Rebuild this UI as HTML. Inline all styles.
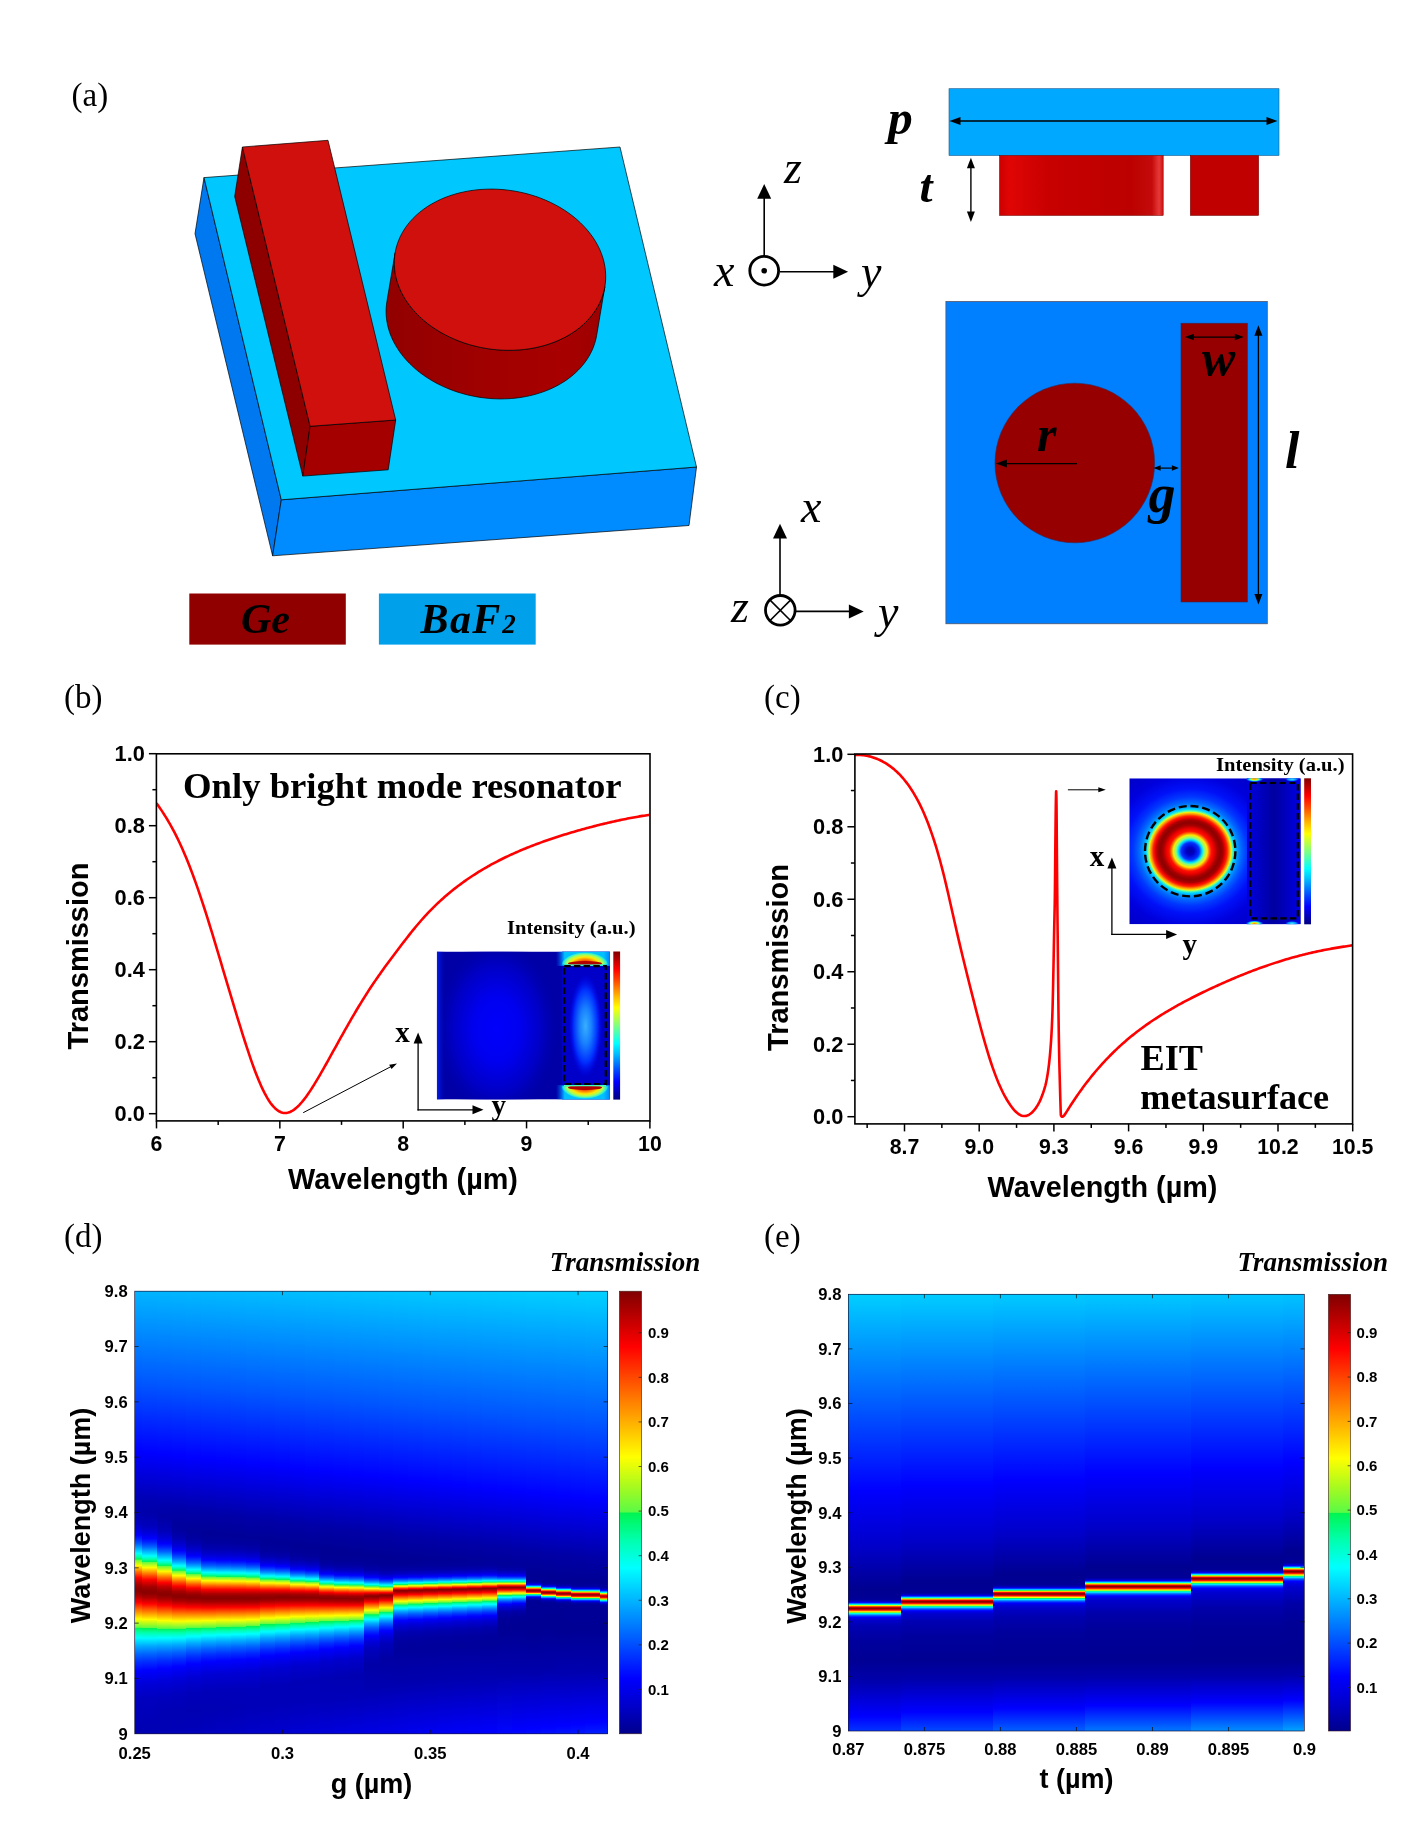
<!DOCTYPE html>
<html><head><meta charset="utf-8"><title>Figure</title>
<style>html,body{margin:0;padding:0;background:#fff;overflow:hidden}svg{display:block;will-change:transform}</style></head>
<body>
<svg width="1411" height="1840" viewBox="0 0 1411 1840">
<rect width="1411" height="1840" fill="#fff"/>
<defs>
<linearGradient id="cylg" x1="0" y1="0" x2="1" y2="0"><stop offset="0" stop-color="#920000"/><stop offset="0.45" stop-color="#a00000"/><stop offset="0.8" stop-color="#a80000"/><stop offset="1" stop-color="#9c0000"/></linearGradient>
<linearGradient id="cyls" x1="0" y1="0" x2="1" y2="0"><stop offset="0" stop-color="#cc0000"/><stop offset="0.06" stop-color="#e00505"/><stop offset="0.3" stop-color="#c80000"/><stop offset="0.8" stop-color="#bc0000"/><stop offset="0.93" stop-color="#c40a0a"/><stop offset="0.975" stop-color="#e83838"/><stop offset="1" stop-color="#c81010"/></linearGradient>
<linearGradient id="jetv" x1="0" y1="0" x2="0" y2="1"><stop offset="0" stop-color="#800000"/><stop offset="0.06" stop-color="#bf0000"/><stop offset="0.12" stop-color="#ff0000"/><stop offset="0.19" stop-color="#ff4000"/><stop offset="0.25" stop-color="#ff8000"/><stop offset="0.31" stop-color="#ffbf00"/><stop offset="0.38" stop-color="#ffff00"/><stop offset="0.44" stop-color="#bfff40"/><stop offset="0.5" stop-color="#80ff80"/><stop offset="0.56" stop-color="#40ffbf"/><stop offset="0.62" stop-color="#00ffff"/><stop offset="0.69" stop-color="#00bfff"/><stop offset="0.75" stop-color="#0080ff"/><stop offset="0.81" stop-color="#0040ff"/><stop offset="0.88" stop-color="#0000ff"/><stop offset="0.94" stop-color="#0000bf"/><stop offset="1" stop-color="#000080"/></linearGradient>
<clipPath id="clipb"><rect x="436.8" y="951.5" width="173.1" height="148.1"/></clipPath>
<radialGradient id="b_el1" cx="0.5" cy="0.5" r="0.5"><stop offset="0" stop-color="#0000ff"/><stop offset="0.45" stop-color="#0000f0"/><stop offset="1" stop-color="#0000f0" stop-opacity="0"/></radialGradient>
<radialGradient id="b_el2" cx="0.5" cy="0.5" r="0.5"><stop offset="0" stop-color="#38b0ff"/><stop offset="0.35" stop-color="#1880ff"/><stop offset="0.7" stop-color="#0030ff"/><stop offset="1" stop-color="#0000f0" stop-opacity="0"/></radialGradient>
<radialGradient id="b_hot" cx="0.5" cy="0.5" r="0.5"><stop offset="0" stop-color="#c00000"/><stop offset="0.3" stop-color="#ff2000"/><stop offset="0.5" stop-color="#ffb000"/><stop offset="0.65" stop-color="#e0ff20"/><stop offset="0.78" stop-color="#40ffc0"/><stop offset="0.9" stop-color="#00b0ff"/><stop offset="1" stop-color="#0040ff" stop-opacity="0"/></radialGradient>
<linearGradient id="b_bg" x1="0" y1="0" x2="1" y2="0"><stop offset="0" stop-color="#0008f0"/><stop offset="0.06" stop-color="#0000c8"/><stop offset="0.2" stop-color="#0000c8"/><stop offset="0.36" stop-color="#0000f8"/><stop offset="0.52" stop-color="#0000c8"/><stop offset="0.68" stop-color="#0000a8"/><stop offset="0.74" stop-color="#0000c0"/><stop offset="1" stop-color="#0000d0"/></linearGradient>
<clipPath id="domeT"><rect x="430" y="940" width="190" height="24.6"/></clipPath><clipPath id="domeB"><rect x="430" y="1086.2" width="190" height="25"/></clipPath>
<filter id="blur2" x="-20%" y="-20%" width="140%" height="140%"><feGaussianBlur stdDeviation="1.2"/></filter>
<radialGradient id="b_bigel" cx="0.5" cy="0.5" r="0.5"><stop offset="0" stop-color="#0000fc"/><stop offset="0.35" stop-color="#0000f0"/><stop offset="0.7" stop-color="#0000c4"/><stop offset="1" stop-color="#0000a6" stop-opacity="0"/></radialGradient>
<linearGradient id="b_left" x1="0" y1="0" x2="1" y2="0"><stop offset="0" stop-color="#0020f0"/><stop offset="1" stop-color="#0000a6" stop-opacity="0"/></linearGradient>
<linearGradient id="b_glow" x1="0" y1="0" x2="1" y2="0"><stop offset="0" stop-color="#0060ff" stop-opacity="0"/><stop offset="0.16" stop-color="#00c0ff"/><stop offset="0.88" stop-color="#00c0ff"/><stop offset="1" stop-color="#0080ff"/></linearGradient>
<radialGradient id="b_dome" cx="0.5" cy="0.5" r="0.5"><stop offset="0" stop-color="#c00000"/><stop offset="0.22" stop-color="#f01000"/><stop offset="0.42" stop-color="#ff8000"/><stop offset="0.62" stop-color="#ffe800"/><stop offset="0.8" stop-color="#a0ff60"/><stop offset="0.93" stop-color="#30f0d0"/><stop offset="1" stop-color="#00c8ff"/></radialGradient>
<clipPath id="cb"><rect x="156.4" y="753.8" width="493.6" height="367.1"/></clipPath>
<clipPath id="clipc"><rect x="1129.3" y="778.3" width="171.4" height="146"/></clipPath>
<radialGradient id="c_ring" gradientUnits="userSpaceOnUse" cx="1190.2" cy="851.2" r="100" gradientTransform="translate(0 851.2) scale(1 0.95) translate(0 -851.2)"><stop offset="0" stop-color="#0000a0"/><stop offset="0.04" stop-color="#0000c8"/><stop offset="0.09" stop-color="#0030ff"/><stop offset="0.12" stop-color="#00e0ff"/><stop offset="0.14" stop-color="#80ff80"/><stop offset="0.17" stop-color="#ffe800"/><stop offset="0.19" stop-color="#ff7000"/><stop offset="0.21" stop-color="#ff1000"/><stop offset="0.24" stop-color="#e80000"/><stop offset="0.27" stop-color="#a80000"/><stop offset="0.3" stop-color="#8c0000"/><stop offset="0.33" stop-color="#a80000"/><stop offset="0.35" stop-color="#e80000"/><stop offset="0.37" stop-color="#ff2000"/><stop offset="0.39" stop-color="#ff9000"/><stop offset="0.41" stop-color="#f0f010"/><stop offset="0.42" stop-color="#70ff90"/><stop offset="0.44" stop-color="#00d8ff"/><stop offset="0.47" stop-color="#0098ff"/><stop offset="0.51" stop-color="#0068ff"/><stop offset="0.57" stop-color="#0038ff"/><stop offset="0.66" stop-color="#0010f8"/><stop offset="0.8" stop-color="#0000dc"/><stop offset="1" stop-color="#0000c4"/></radialGradient>
<linearGradient id="c_bar" x1="0" y1="0" x2="1" y2="0"><stop offset="0" stop-color="#0000e0"/><stop offset="0.25" stop-color="#0000c0"/><stop offset="0.5" stop-color="#0000a0"/><stop offset="0.8" stop-color="#0000c8"/><stop offset="1" stop-color="#0000e8"/></linearGradient>
<radialGradient id="c_hot" cx="0.5" cy="0.5" r="0.5"><stop offset="0" stop-color="#ff9000"/><stop offset="0.3" stop-color="#ffe000"/><stop offset="0.5" stop-color="#60ffa0"/><stop offset="0.7" stop-color="#00a0ff"/><stop offset="1" stop-color="#0040ff" stop-opacity="0"/></radialGradient>
<radialGradient id="c_hot2" cx="0.5" cy="0.5" r="0.5"><stop offset="0" stop-color="#40e0ff"/><stop offset="0.6" stop-color="#0090ff"/><stop offset="1" stop-color="#0040ff" stop-opacity="0"/></radialGradient>
<clipPath id="cc"><rect x="854.9" y="754" width="497.7" height="369.9"/></clipPath>
<linearGradient id="d0" x1="0" y1="0" x2="0" y2="1"><stop offset="0" stop-color="#00b4ff"/><stop offset="0.2069" stop-color="#0056ff"/><stop offset="0.3626" stop-color="#0000ff"/><stop offset="0.4661" stop-color="#0000b6"/><stop offset="0.4939" stop-color="#0000ac"/><stop offset="0.5239" stop-color="#0000be"/><stop offset="0.5384" stop-color="#0000d9"/><stop offset="0.5517" stop-color="#0000fe"/><stop offset="0.5606" stop-color="#0026ff"/><stop offset="0.5717" stop-color="#0065ff"/><stop offset="0.5918" stop-color="#00faff"/><stop offset="0.5929" stop-color="#00fff9"/><stop offset="0.5996" stop-color="#00ffad"/><stop offset="0.6051" stop-color="#00f75f"/><stop offset="0.6062" stop-color="#25f74c"/><stop offset="0.6073" stop-color="#67fa3f"/><stop offset="0.6129" stop-color="#affa1c"/><stop offset="0.6196" stop-color="#fffb00"/><stop offset="0.6352" stop-color="#ff6500"/><stop offset="0.6474" stop-color="#ff0000"/><stop offset="0.6552" stop-color="#cd0000"/><stop offset="0.663" stop-color="#a70000"/><stop offset="0.6707" stop-color="#900000"/><stop offset="0.6774" stop-color="#890000"/><stop offset="0.6874" stop-color="#a60000"/><stop offset="0.703" stop-color="#fc0000"/><stop offset="0.7408" stop-color="#feff00"/><stop offset="0.7597" stop-color="#5ffa43"/><stop offset="0.7608" stop-color="#00f553"/><stop offset="0.7709" stop-color="#00ffaa"/><stop offset="0.7831" stop-color="#00fffe"/><stop offset="0.802" stop-color="#00a9ff"/><stop offset="0.8198" stop-color="#0066ff"/><stop offset="0.8387" stop-color="#002dff"/><stop offset="0.8587" stop-color="#0000ff"/><stop offset="0.8877" stop-color="#0000da"/><stop offset="0.9232" stop-color="#0000bf"/><stop offset="1" stop-color="#0000af"/></linearGradient>
<linearGradient id="d1" x1="0" y1="0" x2="0" y2="1"><stop offset="0" stop-color="#00b5ff"/><stop offset="0.2102" stop-color="#0056ff"/><stop offset="0.366" stop-color="#0000ff"/><stop offset="0.4716" stop-color="#0000b4"/><stop offset="0.4994" stop-color="#0000aa"/><stop offset="0.5306" stop-color="#0000bd"/><stop offset="0.5451" stop-color="#0000d8"/><stop offset="0.5584" stop-color="#0000fe"/><stop offset="0.5673" stop-color="#0027ff"/><stop offset="0.5773" stop-color="#0061ff"/><stop offset="0.5973" stop-color="#00f8ff"/><stop offset="0.5984" stop-color="#00fffb"/><stop offset="0.6051" stop-color="#00ffad"/><stop offset="0.6107" stop-color="#00f75e"/><stop offset="0.6118" stop-color="#5bfa46"/><stop offset="0.624" stop-color="#fcff01"/><stop offset="0.6251" stop-color="#fff600"/><stop offset="0.6429" stop-color="#ff4a00"/><stop offset="0.6518" stop-color="#ff0100"/><stop offset="0.6529" stop-color="#f80000"/><stop offset="0.6674" stop-color="#a60000"/><stop offset="0.6752" stop-color="#8f0000"/><stop offset="0.6819" stop-color="#890000"/><stop offset="0.6919" stop-color="#ab0000"/><stop offset="0.7063" stop-color="#ff0000"/><stop offset="0.7419" stop-color="#fffc00"/><stop offset="0.7519" stop-color="#abfa1e"/><stop offset="0.7608" stop-color="#5efa44"/><stop offset="0.762" stop-color="#00f554"/><stop offset="0.772" stop-color="#00ffae"/><stop offset="0.7842" stop-color="#00fbff"/><stop offset="0.802" stop-color="#00a7ff"/><stop offset="0.8198" stop-color="#0062ff"/><stop offset="0.8376" stop-color="#002cff"/><stop offset="0.8565" stop-color="#0000ff"/><stop offset="0.8854" stop-color="#0000d9"/><stop offset="0.921" stop-color="#0000bf"/><stop offset="1" stop-color="#0000b2"/></linearGradient>
<linearGradient id="d2" x1="0" y1="0" x2="0" y2="1"><stop offset="0" stop-color="#00b6ff"/><stop offset="0.2125" stop-color="#0056ff"/><stop offset="0.3693" stop-color="#0000ff"/><stop offset="0.4816" stop-color="#0000af"/><stop offset="0.5106" stop-color="#0000a5"/><stop offset="0.5417" stop-color="#0000b7"/><stop offset="0.5584" stop-color="#0000d9"/><stop offset="0.5706" stop-color="#0000fd"/><stop offset="0.5784" stop-color="#0024ff"/><stop offset="0.5884" stop-color="#0061ff"/><stop offset="0.6073" stop-color="#00f9ff"/><stop offset="0.6085" stop-color="#00fff9"/><stop offset="0.614" stop-color="#00ffb3"/><stop offset="0.6196" stop-color="#00f760"/><stop offset="0.6207" stop-color="#42f949"/><stop offset="0.6218" stop-color="#69fa3e"/><stop offset="0.6263" stop-color="#a8fa1f"/><stop offset="0.6329" stop-color="#fffa00"/><stop offset="0.6474" stop-color="#ff6300"/><stop offset="0.6585" stop-color="#ff0000"/><stop offset="0.6663" stop-color="#c80000"/><stop offset="0.673" stop-color="#a60000"/><stop offset="0.6796" stop-color="#910000"/><stop offset="0.6863" stop-color="#890000"/><stop offset="0.6963" stop-color="#ac0000"/><stop offset="0.7097" stop-color="#fe0000"/><stop offset="0.7442" stop-color="#feff00"/><stop offset="0.762" stop-color="#5bfa45"/><stop offset="0.7631" stop-color="#00f658"/><stop offset="0.772" stop-color="#00ffac"/><stop offset="0.7831" stop-color="#00ffff"/><stop offset="0.7998" stop-color="#00abff"/><stop offset="0.8165" stop-color="#0067ff"/><stop offset="0.8343" stop-color="#002dff"/><stop offset="0.8521" stop-color="#0001ff"/><stop offset="0.8821" stop-color="#0000d8"/><stop offset="0.9177" stop-color="#0000be"/><stop offset="0.9544" stop-color="#0000b4"/><stop offset="1" stop-color="#0000b4"/></linearGradient>
<linearGradient id="d3" x1="0" y1="0" x2="0" y2="1"><stop offset="0" stop-color="#00b7ff"/><stop offset="0.2158" stop-color="#0056ff"/><stop offset="0.3726" stop-color="#0000ff"/><stop offset="0.4917" stop-color="#0000aa"/><stop offset="0.5284" stop-color="#00009e"/><stop offset="0.5439" stop-color="#0000a2"/><stop offset="0.5584" stop-color="#0000b3"/><stop offset="0.574" stop-color="#0000d4"/><stop offset="0.5862" stop-color="#0000fc"/><stop offset="0.5929" stop-color="#001fff"/><stop offset="0.6018" stop-color="#005aff"/><stop offset="0.6107" stop-color="#00a2ff"/><stop offset="0.6196" stop-color="#00f8ff"/><stop offset="0.6207" stop-color="#00fff9"/><stop offset="0.6251" stop-color="#00ffbc"/><stop offset="0.6307" stop-color="#00f761"/><stop offset="0.6318" stop-color="#5bfa46"/><stop offset="0.6418" stop-color="#f7ff03"/><stop offset="0.6429" stop-color="#fff800"/><stop offset="0.6574" stop-color="#ff5200"/><stop offset="0.6663" stop-color="#fa0000"/><stop offset="0.6785" stop-color="#a70000"/><stop offset="0.6852" stop-color="#900000"/><stop offset="0.6908" stop-color="#890000"/><stop offset="0.6997" stop-color="#a90000"/><stop offset="0.713" stop-color="#fe0000"/><stop offset="0.7453" stop-color="#fffc00"/><stop offset="0.762" stop-color="#61fa43"/><stop offset="0.7631" stop-color="#00f552"/><stop offset="0.772" stop-color="#00ffab"/><stop offset="0.7831" stop-color="#00fcff"/><stop offset="0.7987" stop-color="#00aaff"/><stop offset="0.8154" stop-color="#0063ff"/><stop offset="0.832" stop-color="#002bff"/><stop offset="0.8487" stop-color="#0000ff"/><stop offset="0.8776" stop-color="#0000d7"/><stop offset="0.9132" stop-color="#0000bd"/><stop offset="0.9511" stop-color="#0000b4"/><stop offset="1" stop-color="#0000b7"/></linearGradient>
<linearGradient id="d4" x1="0" y1="0" x2="0" y2="1"><stop offset="0" stop-color="#00b8ff"/><stop offset="0.218" stop-color="#0056ff"/><stop offset="0.3771" stop-color="#0000ff"/><stop offset="0.4972" stop-color="#0000a9"/><stop offset="0.5395" stop-color="#00009a"/><stop offset="0.5562" stop-color="#00009f"/><stop offset="0.5717" stop-color="#0000b1"/><stop offset="0.5873" stop-color="#0000d5"/><stop offset="0.5984" stop-color="#0000fe"/><stop offset="0.6051" stop-color="#0026ff"/><stop offset="0.6129" stop-color="#0060ff"/><stop offset="0.6207" stop-color="#00a7ff"/><stop offset="0.6285" stop-color="#00f9ff"/><stop offset="0.6296" stop-color="#00fff6"/><stop offset="0.634" stop-color="#00ffb2"/><stop offset="0.6385" stop-color="#00f760"/><stop offset="0.6396" stop-color="#5dfa44"/><stop offset="0.6485" stop-color="#f5fe03"/><stop offset="0.6496" stop-color="#fff800"/><stop offset="0.663" stop-color="#ff4f00"/><stop offset="0.6707" stop-color="#fb0000"/><stop offset="0.6819" stop-color="#a70000"/><stop offset="0.6874" stop-color="#910000"/><stop offset="0.693" stop-color="#890000"/><stop offset="0.7019" stop-color="#ab0000"/><stop offset="0.7141" stop-color="#ff0000"/><stop offset="0.7442" stop-color="#fff900"/><stop offset="0.7453" stop-color="#fbff01"/><stop offset="0.7608" stop-color="#5cfa45"/><stop offset="0.762" stop-color="#00f658"/><stop offset="0.7697" stop-color="#00ffaa"/><stop offset="0.7798" stop-color="#00fffe"/><stop offset="0.7809" stop-color="#00f9ff"/><stop offset="0.7953" stop-color="#00a9ff"/><stop offset="0.8109" stop-color="#0063ff"/><stop offset="0.8265" stop-color="#002bff"/><stop offset="0.842" stop-color="#0001ff"/><stop offset="0.871" stop-color="#0000d6"/><stop offset="0.9077" stop-color="#0000bb"/><stop offset="0.9477" stop-color="#0000b3"/><stop offset="1" stop-color="#0000ba"/></linearGradient>
<linearGradient id="d5" x1="0" y1="0" x2="0" y2="1"><stop offset="0" stop-color="#00b9ff"/><stop offset="0.2214" stop-color="#0056ff"/><stop offset="0.3804" stop-color="#0000ff"/><stop offset="0.5028" stop-color="#0000a7"/><stop offset="0.5473" stop-color="#000097"/><stop offset="0.5662" stop-color="#00009e"/><stop offset="0.5818" stop-color="#0000b0"/><stop offset="0.5962" stop-color="#0000d4"/><stop offset="0.6073" stop-color="#0000ff"/><stop offset="0.6207" stop-color="#0062ff"/><stop offset="0.6274" stop-color="#00a4ff"/><stop offset="0.6352" stop-color="#00fdff"/><stop offset="0.6407" stop-color="#00fea5"/><stop offset="0.644" stop-color="#00f762"/><stop offset="0.6452" stop-color="#5dfa44"/><stop offset="0.6496" stop-color="#b0fa1c"/><stop offset="0.6541" stop-color="#fffd00"/><stop offset="0.6663" stop-color="#ff5500"/><stop offset="0.6741" stop-color="#fa0000"/><stop offset="0.6841" stop-color="#a90000"/><stop offset="0.6897" stop-color="#910000"/><stop offset="0.6941" stop-color="#890000"/><stop offset="0.7019" stop-color="#a40000"/><stop offset="0.7152" stop-color="#ff0300"/><stop offset="0.7442" stop-color="#fffe00"/><stop offset="0.7597" stop-color="#5bfa46"/><stop offset="0.7608" stop-color="#00f65a"/><stop offset="0.7686" stop-color="#00ffaf"/><stop offset="0.7775" stop-color="#00fffd"/><stop offset="0.7786" stop-color="#00faff"/><stop offset="0.7931" stop-color="#00a6ff"/><stop offset="0.8076" stop-color="#0062ff"/><stop offset="0.822" stop-color="#002cff"/><stop offset="0.8376" stop-color="#0000ff"/><stop offset="0.8665" stop-color="#0000d4"/><stop offset="0.9032" stop-color="#0000ba"/><stop offset="0.9444" stop-color="#0000b4"/><stop offset="1" stop-color="#0000be"/></linearGradient>
<linearGradient id="d6" x1="0" y1="0" x2="0" y2="1"><stop offset="0" stop-color="#00baff"/><stop offset="0.2236" stop-color="#0056ff"/><stop offset="0.3838" stop-color="#0000ff"/><stop offset="0.5061" stop-color="#0000a8"/><stop offset="0.5506" stop-color="#000098"/><stop offset="0.5684" stop-color="#00009f"/><stop offset="0.5829" stop-color="#0000b0"/><stop offset="0.5973" stop-color="#0000d4"/><stop offset="0.6073" stop-color="#0000fb"/><stop offset="0.6129" stop-color="#001eff"/><stop offset="0.6207" stop-color="#005cff"/><stop offset="0.6274" stop-color="#009cff"/><stop offset="0.6352" stop-color="#00f5ff"/><stop offset="0.6363" stop-color="#00fffa"/><stop offset="0.6396" stop-color="#00ffc3"/><stop offset="0.6452" stop-color="#00f656"/><stop offset="0.6463" stop-color="#68fa3f"/><stop offset="0.6541" stop-color="#faff02"/><stop offset="0.6552" stop-color="#fff300"/><stop offset="0.6663" stop-color="#ff5900"/><stop offset="0.6741" stop-color="#fc0000"/><stop offset="0.6841" stop-color="#a90000"/><stop offset="0.6897" stop-color="#910000"/><stop offset="0.6941" stop-color="#890000"/><stop offset="0.7019" stop-color="#a50000"/><stop offset="0.7141" stop-color="#fb0000"/><stop offset="0.743" stop-color="#fffa00"/><stop offset="0.7508" stop-color="#affa1c"/><stop offset="0.7586" stop-color="#5cfa45"/><stop offset="0.7597" stop-color="#00f659"/><stop offset="0.7675" stop-color="#00ffaf"/><stop offset="0.7764" stop-color="#00fffe"/><stop offset="0.7775" stop-color="#00f9ff"/><stop offset="0.7909" stop-color="#00aaff"/><stop offset="0.8053" stop-color="#0065ff"/><stop offset="0.8198" stop-color="#002dff"/><stop offset="0.8354" stop-color="#0001ff"/><stop offset="0.8643" stop-color="#0000d4"/><stop offset="0.901" stop-color="#0000ba"/><stop offset="0.9433" stop-color="#0000b5"/><stop offset="1" stop-color="#0000c2"/></linearGradient>
<linearGradient id="d7" x1="0" y1="0" x2="0" y2="1"><stop offset="0" stop-color="#00bbff"/><stop offset="0.2269" stop-color="#0056ff"/><stop offset="0.3871" stop-color="#0000ff"/><stop offset="0.5095" stop-color="#0000a8"/><stop offset="0.5528" stop-color="#000098"/><stop offset="0.5695" stop-color="#00009e"/><stop offset="0.584" stop-color="#0000b0"/><stop offset="0.5984" stop-color="#0000d4"/><stop offset="0.6085" stop-color="#0000fc"/><stop offset="0.614" stop-color="#0020ff"/><stop offset="0.6218" stop-color="#005fff"/><stop offset="0.6285" stop-color="#00a1ff"/><stop offset="0.6363" stop-color="#00fbff"/><stop offset="0.6407" stop-color="#00ffb9"/><stop offset="0.6452" stop-color="#00f761"/><stop offset="0.6463" stop-color="#5ffa44"/><stop offset="0.6507" stop-color="#b3fb1b"/><stop offset="0.6552" stop-color="#fff900"/><stop offset="0.6663" stop-color="#ff5d00"/><stop offset="0.6741" stop-color="#ff0000"/><stop offset="0.6841" stop-color="#aa0000"/><stop offset="0.6897" stop-color="#910000"/><stop offset="0.6941" stop-color="#890000"/><stop offset="0.7019" stop-color="#a50000"/><stop offset="0.7141" stop-color="#fe0000"/><stop offset="0.743" stop-color="#fdff01"/><stop offset="0.7575" stop-color="#5efa44"/><stop offset="0.7586" stop-color="#00f657"/><stop offset="0.7664" stop-color="#00ffaf"/><stop offset="0.7753" stop-color="#00ffff"/><stop offset="0.7887" stop-color="#00afff"/><stop offset="0.8031" stop-color="#0067ff"/><stop offset="0.8176" stop-color="#002fff"/><stop offset="0.8331" stop-color="#0001ff"/><stop offset="0.8621" stop-color="#0000d4"/><stop offset="0.8999" stop-color="#0000ba"/><stop offset="0.9422" stop-color="#0000b7"/><stop offset="1" stop-color="#0000c5"/></linearGradient>
<linearGradient id="d8" x1="0" y1="0" x2="0" y2="1"><stop offset="0" stop-color="#00bcff"/><stop offset="0.2303" stop-color="#0056ff"/><stop offset="0.3904" stop-color="#0000ff"/><stop offset="0.5139" stop-color="#0000a8"/><stop offset="0.5562" stop-color="#000099"/><stop offset="0.5717" stop-color="#00009e"/><stop offset="0.5862" stop-color="#0000b0"/><stop offset="0.6007" stop-color="#0000d5"/><stop offset="0.6107" stop-color="#0000fe"/><stop offset="0.6174" stop-color="#002cff"/><stop offset="0.624" stop-color="#0065ff"/><stop offset="0.6374" stop-color="#00faff"/><stop offset="0.6418" stop-color="#00ffba"/><stop offset="0.6463" stop-color="#00f760"/><stop offset="0.6474" stop-color="#60fa43"/><stop offset="0.6552" stop-color="#f6fe03"/><stop offset="0.6563" stop-color="#fff500"/><stop offset="0.6685" stop-color="#ff4800"/><stop offset="0.6741" stop-color="#ff0500"/><stop offset="0.6752" stop-color="#f70000"/><stop offset="0.6808" stop-color="#c40000"/><stop offset="0.6852" stop-color="#a50000"/><stop offset="0.6908" stop-color="#8e0000"/><stop offset="0.6952" stop-color="#890000"/><stop offset="0.703" stop-color="#ad0000"/><stop offset="0.7141" stop-color="#ff0100"/><stop offset="0.7419" stop-color="#fffd00"/><stop offset="0.7564" stop-color="#5ffa43"/><stop offset="0.7575" stop-color="#00f656"/><stop offset="0.7653" stop-color="#00ffaf"/><stop offset="0.7742" stop-color="#00feff"/><stop offset="0.7875" stop-color="#00adff"/><stop offset="0.802" stop-color="#0065ff"/><stop offset="0.8176" stop-color="#0028ff"/><stop offset="0.832" stop-color="#0000fe"/><stop offset="0.861" stop-color="#0000d3"/><stop offset="0.8977" stop-color="#0000bb"/><stop offset="0.9399" stop-color="#0000b8"/><stop offset="1" stop-color="#0000c9"/></linearGradient>
<linearGradient id="d9" x1="0" y1="0" x2="0" y2="1"><stop offset="0" stop-color="#00bdff"/><stop offset="0.2325" stop-color="#0056ff"/><stop offset="0.3938" stop-color="#0000ff"/><stop offset="0.5184" stop-color="#0000a7"/><stop offset="0.5651" stop-color="#000096"/><stop offset="0.584" stop-color="#00009c"/><stop offset="0.5973" stop-color="#0000ad"/><stop offset="0.6107" stop-color="#0000d3"/><stop offset="0.6196" stop-color="#0000fc"/><stop offset="0.624" stop-color="#001dff"/><stop offset="0.6307" stop-color="#005cff"/><stop offset="0.6363" stop-color="#009cff"/><stop offset="0.6429" stop-color="#00f7ff"/><stop offset="0.644" stop-color="#00fff4"/><stop offset="0.6463" stop-color="#00ffc9"/><stop offset="0.6507" stop-color="#00f763"/><stop offset="0.6518" stop-color="#60fa43"/><stop offset="0.6585" stop-color="#f4fe04"/><stop offset="0.6596" stop-color="#fff400"/><stop offset="0.6707" stop-color="#ff4000"/><stop offset="0.6752" stop-color="#ff0300"/><stop offset="0.6763" stop-color="#f40000"/><stop offset="0.6808" stop-color="#c40000"/><stop offset="0.6852" stop-color="#a20000"/><stop offset="0.693" stop-color="#890000"/><stop offset="0.6997" stop-color="#a50000"/><stop offset="0.7119" stop-color="#ff0300"/><stop offset="0.7386" stop-color="#feff00"/><stop offset="0.7519" stop-color="#63fa42"/><stop offset="0.7531" stop-color="#00f553"/><stop offset="0.7608" stop-color="#00ffaf"/><stop offset="0.7697" stop-color="#00fcff"/><stop offset="0.7831" stop-color="#00a7ff"/><stop offset="0.7964" stop-color="#0063ff"/><stop offset="0.8098" stop-color="#002cff"/><stop offset="0.8242" stop-color="#0000ff"/><stop offset="0.8532" stop-color="#0000d2"/><stop offset="0.891" stop-color="#0000b9"/><stop offset="0.9355" stop-color="#0000b8"/><stop offset="1" stop-color="#0000cc"/></linearGradient>
<linearGradient id="d10" x1="0" y1="0" x2="0" y2="1"><stop offset="0" stop-color="#00beff"/><stop offset="0.2358" stop-color="#0056ff"/><stop offset="0.3971" stop-color="#0000ff"/><stop offset="0.5228" stop-color="#0000a7"/><stop offset="0.5695" stop-color="#000096"/><stop offset="0.5862" stop-color="#00009c"/><stop offset="0.5996" stop-color="#0000ac"/><stop offset="0.6129" stop-color="#0000d2"/><stop offset="0.6218" stop-color="#0000fc"/><stop offset="0.6263" stop-color="#0020ff"/><stop offset="0.6329" stop-color="#0062ff"/><stop offset="0.644" stop-color="#00f5ff"/><stop offset="0.6452" stop-color="#00fff6"/><stop offset="0.6463" stop-color="#00ffe0"/><stop offset="0.6518" stop-color="#00f75f"/><stop offset="0.6529" stop-color="#65fa41"/><stop offset="0.6596" stop-color="#feff00"/><stop offset="0.6607" stop-color="#ffec00"/><stop offset="0.6719" stop-color="#ff3200"/><stop offset="0.6752" stop-color="#ff0300"/><stop offset="0.6763" stop-color="#f40000"/><stop offset="0.6841" stop-color="#a70000"/><stop offset="0.6885" stop-color="#900000"/><stop offset="0.6919" stop-color="#890000"/><stop offset="0.6997" stop-color="#a90000"/><stop offset="0.7108" stop-color="#ff0200"/><stop offset="0.7364" stop-color="#fff800"/><stop offset="0.7375" stop-color="#fbff01"/><stop offset="0.7508" stop-color="#5dfa44"/><stop offset="0.7519" stop-color="#00f659"/><stop offset="0.7586" stop-color="#00ffaa"/><stop offset="0.7675" stop-color="#00feff"/><stop offset="0.7809" stop-color="#00a8ff"/><stop offset="0.7942" stop-color="#0062ff"/><stop offset="0.8087" stop-color="#0027ff"/><stop offset="0.822" stop-color="#0000fe"/><stop offset="0.8509" stop-color="#0000d1"/><stop offset="0.8888" stop-color="#0000b9"/><stop offset="0.9333" stop-color="#0000b9"/><stop offset="1" stop-color="#0000cf"/></linearGradient>
<linearGradient id="d11" x1="0" y1="0" x2="0" y2="1"><stop offset="0" stop-color="#00bfff"/><stop offset="0.238" stop-color="#0056ff"/><stop offset="0.4004" stop-color="#0000ff"/><stop offset="0.5273" stop-color="#0000a6"/><stop offset="0.5751" stop-color="#000095"/><stop offset="0.594" stop-color="#00009b"/><stop offset="0.6062" stop-color="#0000a9"/><stop offset="0.6185" stop-color="#0000cd"/><stop offset="0.6274" stop-color="#0000f9"/><stop offset="0.6307" stop-color="#0014ff"/><stop offset="0.6374" stop-color="#005aff"/><stop offset="0.6429" stop-color="#00a3ff"/><stop offset="0.6485" stop-color="#00faff"/><stop offset="0.6518" stop-color="#00ffbc"/><stop offset="0.6552" stop-color="#00f763"/><stop offset="0.6563" stop-color="#63fa41"/><stop offset="0.6618" stop-color="#effe06"/><stop offset="0.663" stop-color="#fff500"/><stop offset="0.6719" stop-color="#ff5000"/><stop offset="0.6763" stop-color="#ff0900"/><stop offset="0.6774" stop-color="#f80000"/><stop offset="0.6819" stop-color="#c20000"/><stop offset="0.6852" stop-color="#a40000"/><stop offset="0.6919" stop-color="#890000"/><stop offset="0.6986" stop-color="#a40000"/><stop offset="0.7097" stop-color="#fd0000"/><stop offset="0.7353" stop-color="#ffff00"/><stop offset="0.7486" stop-color="#5bfa45"/><stop offset="0.7497" stop-color="#00f65c"/><stop offset="0.7564" stop-color="#00ffb0"/><stop offset="0.7642" stop-color="#00fffe"/><stop offset="0.7775" stop-color="#00a6ff"/><stop offset="0.7898" stop-color="#0063ff"/><stop offset="0.8031" stop-color="#002aff"/><stop offset="0.8165" stop-color="#0000fe"/><stop offset="0.8454" stop-color="#0000cf"/><stop offset="0.8832" stop-color="#0000b7"/><stop offset="0.9288" stop-color="#0000b9"/><stop offset="1" stop-color="#0000d3"/></linearGradient>
<linearGradient id="d12" x1="0" y1="0" x2="0" y2="1"><stop offset="0" stop-color="#00c0ff"/><stop offset="0.2403" stop-color="#0057ff"/><stop offset="0.4049" stop-color="#0000ff"/><stop offset="0.5306" stop-color="#0000a7"/><stop offset="0.5795" stop-color="#000095"/><stop offset="0.5973" stop-color="#00009b"/><stop offset="0.6096" stop-color="#0000aa"/><stop offset="0.6218" stop-color="#0000d0"/><stop offset="0.6296" stop-color="#0000f9"/><stop offset="0.6318" stop-color="#000bff"/><stop offset="0.6385" stop-color="#0050ff"/><stop offset="0.644" stop-color="#009aff"/><stop offset="0.6496" stop-color="#00f3ff"/><stop offset="0.6507" stop-color="#00fff6"/><stop offset="0.6541" stop-color="#00ffa7"/><stop offset="0.6563" stop-color="#00f868"/><stop offset="0.6574" stop-color="#60fa43"/><stop offset="0.663" stop-color="#f1fe05"/><stop offset="0.6641" stop-color="#fff300"/><stop offset="0.6719" stop-color="#ff5d00"/><stop offset="0.6774" stop-color="#ff0000"/><stop offset="0.6819" stop-color="#c60000"/><stop offset="0.6852" stop-color="#a60000"/><stop offset="0.6919" stop-color="#890000"/><stop offset="0.6986" stop-color="#a50000"/><stop offset="0.7097" stop-color="#ff0100"/><stop offset="0.7341" stop-color="#fffb00"/><stop offset="0.7408" stop-color="#b0fa1c"/><stop offset="0.7475" stop-color="#5dfa45"/><stop offset="0.7486" stop-color="#00f65a"/><stop offset="0.7553" stop-color="#00ffb0"/><stop offset="0.762" stop-color="#00fff4"/><stop offset="0.7631" stop-color="#00ffff"/><stop offset="0.7753" stop-color="#00abff"/><stop offset="0.7887" stop-color="#0060ff"/><stop offset="0.802" stop-color="#0027ff"/><stop offset="0.8142" stop-color="#0000fe"/><stop offset="0.8432" stop-color="#0000cf"/><stop offset="0.881" stop-color="#0000b7"/><stop offset="0.9266" stop-color="#0000ba"/><stop offset="1" stop-color="#0000d6"/></linearGradient>
<linearGradient id="d13" x1="0" y1="0" x2="0" y2="1"><stop offset="0" stop-color="#00c1ff"/><stop offset="0.2436" stop-color="#0056ff"/><stop offset="0.4082" stop-color="#0000ff"/><stop offset="0.535" stop-color="#0000a6"/><stop offset="0.5862" stop-color="#000094"/><stop offset="0.6062" stop-color="#000098"/><stop offset="0.6185" stop-color="#0000a6"/><stop offset="0.6285" stop-color="#0000c4"/><stop offset="0.6385" stop-color="#0000fb"/><stop offset="0.6418" stop-color="#001cff"/><stop offset="0.6474" stop-color="#0063ff"/><stop offset="0.6563" stop-color="#00faff"/><stop offset="0.6596" stop-color="#00ffad"/><stop offset="0.6618" stop-color="#00f766"/><stop offset="0.663" stop-color="#65fa40"/><stop offset="0.6674" stop-color="#e9fe08"/><stop offset="0.6685" stop-color="#fff700"/><stop offset="0.6763" stop-color="#ff4d00"/><stop offset="0.6808" stop-color="#fa0000"/><stop offset="0.6841" stop-color="#c90000"/><stop offset="0.6874" stop-color="#a50000"/><stop offset="0.6908" stop-color="#8f0000"/><stop offset="0.6941" stop-color="#8a0000"/><stop offset="0.7008" stop-color="#ae0000"/><stop offset="0.7097" stop-color="#fd0000"/><stop offset="0.733" stop-color="#fff900"/><stop offset="0.7341" stop-color="#f8ff03"/><stop offset="0.7453" stop-color="#64fa41"/><stop offset="0.7464" stop-color="#00f553"/><stop offset="0.7531" stop-color="#00ffae"/><stop offset="0.7608" stop-color="#00fdff"/><stop offset="0.772" stop-color="#00acff"/><stop offset="0.7842" stop-color="#0064ff"/><stop offset="0.7964" stop-color="#002bff"/><stop offset="0.8087" stop-color="#0000ff"/><stop offset="0.8365" stop-color="#0000ce"/><stop offset="0.8754" stop-color="#0000b5"/><stop offset="0.9221" stop-color="#0000b9"/><stop offset="1" stop-color="#0000d9"/></linearGradient>
<linearGradient id="d14" x1="0" y1="0" x2="0" y2="1"><stop offset="0" stop-color="#00c2ff"/><stop offset="0.2469" stop-color="#0056ff"/><stop offset="0.4116" stop-color="#0000ff"/><stop offset="0.5395" stop-color="#0000a6"/><stop offset="0.5907" stop-color="#000094"/><stop offset="0.6096" stop-color="#000098"/><stop offset="0.6218" stop-color="#0000a6"/><stop offset="0.6307" stop-color="#0000c1"/><stop offset="0.6407" stop-color="#0000f9"/><stop offset="0.6429" stop-color="#000fff"/><stop offset="0.6485" stop-color="#0053ff"/><stop offset="0.6529" stop-color="#0099ff"/><stop offset="0.6585" stop-color="#00fffc"/><stop offset="0.6618" stop-color="#00fe9f"/><stop offset="0.6641" stop-color="#00f554"/><stop offset="0.6652" stop-color="#77fa38"/><stop offset="0.6696" stop-color="#ffff00"/><stop offset="0.6707" stop-color="#ffe500"/><stop offset="0.6774" stop-color="#ff4f00"/><stop offset="0.6808" stop-color="#ff0e00"/><stop offset="0.6819" stop-color="#f90000"/><stop offset="0.6852" stop-color="#c70000"/><stop offset="0.6885" stop-color="#a30000"/><stop offset="0.6941" stop-color="#890000"/><stop offset="0.7008" stop-color="#ab0000"/><stop offset="0.7097" stop-color="#fc0000"/><stop offset="0.7319" stop-color="#fff600"/><stop offset="0.733" stop-color="#fbff01"/><stop offset="0.7442" stop-color="#62fa42"/><stop offset="0.7453" stop-color="#00f656"/><stop offset="0.7519" stop-color="#00ffb3"/><stop offset="0.7586" stop-color="#00fffe"/><stop offset="0.7709" stop-color="#00a4ff"/><stop offset="0.782" stop-color="#0061ff"/><stop offset="0.7942" stop-color="#0027ff"/><stop offset="0.8053" stop-color="#0000fe"/><stop offset="0.8331" stop-color="#0000cc"/><stop offset="0.8721" stop-color="#0000b3"/><stop offset="0.9188" stop-color="#0000b9"/><stop offset="1" stop-color="#0000dd"/></linearGradient>
<linearGradient id="d15" x1="0" y1="0" x2="0" y2="1"><stop offset="0" stop-color="#00c3ff"/><stop offset="0.2503" stop-color="#0056ff"/><stop offset="0.4149" stop-color="#0000ff"/><stop offset="0.5428" stop-color="#0000a6"/><stop offset="0.5929" stop-color="#000095"/><stop offset="0.6118" stop-color="#000099"/><stop offset="0.6229" stop-color="#0000a7"/><stop offset="0.634" stop-color="#0000cd"/><stop offset="0.6418" stop-color="#0000fd"/><stop offset="0.6452" stop-color="#0020ff"/><stop offset="0.6496" stop-color="#005aff"/><stop offset="0.6541" stop-color="#00a1ff"/><stop offset="0.6585" stop-color="#00f5ff"/><stop offset="0.6596" stop-color="#00ffef"/><stop offset="0.6641" stop-color="#00f869"/><stop offset="0.6652" stop-color="#64fa41"/><stop offset="0.6696" stop-color="#ecfe07"/><stop offset="0.6707" stop-color="#fff400"/><stop offset="0.6796" stop-color="#ff2f00"/><stop offset="0.6819" stop-color="#ff0500"/><stop offset="0.683" stop-color="#f10000"/><stop offset="0.6863" stop-color="#c10000"/><stop offset="0.6897" stop-color="#9f0000"/><stop offset="0.6952" stop-color="#890000"/><stop offset="0.7008" stop-color="#a80000"/><stop offset="0.7097" stop-color="#fc0000"/><stop offset="0.7319" stop-color="#ffff00"/><stop offset="0.743" stop-color="#5ffa43"/><stop offset="0.7442" stop-color="#00f659"/><stop offset="0.7497" stop-color="#00ffab"/><stop offset="0.7564" stop-color="#00fffa"/><stop offset="0.7575" stop-color="#00faff"/><stop offset="0.7675" stop-color="#00abff"/><stop offset="0.7786" stop-color="#0064ff"/><stop offset="0.7898" stop-color="#002cff"/><stop offset="0.8009" stop-color="#0001ff"/><stop offset="0.8287" stop-color="#0000cb"/><stop offset="0.8676" stop-color="#0000b2"/><stop offset="0.9155" stop-color="#0000b9"/><stop offset="1" stop-color="#0000e0"/></linearGradient>
<linearGradient id="d16" x1="0" y1="0" x2="0" y2="1"><stop offset="0" stop-color="#00c4ff"/><stop offset="0.2525" stop-color="#0056ff"/><stop offset="0.4182" stop-color="#0000ff"/><stop offset="0.5462" stop-color="#0000a7"/><stop offset="0.5973" stop-color="#000095"/><stop offset="0.6162" stop-color="#000099"/><stop offset="0.6285" stop-color="#0000a8"/><stop offset="0.6385" stop-color="#0000cc"/><stop offset="0.6463" stop-color="#0000fc"/><stop offset="0.6496" stop-color="#0022ff"/><stop offset="0.6541" stop-color="#0060ff"/><stop offset="0.6585" stop-color="#00afff"/><stop offset="0.6618" stop-color="#00f6ff"/><stop offset="0.663" stop-color="#00ffe9"/><stop offset="0.6663" stop-color="#00f978"/><stop offset="0.6674" stop-color="#5bfa45"/><stop offset="0.6719" stop-color="#fbff01"/><stop offset="0.673" stop-color="#ffe200"/><stop offset="0.6796" stop-color="#ff2b00"/><stop offset="0.6808" stop-color="#ff0f00"/><stop offset="0.6819" stop-color="#f40000"/><stop offset="0.6863" stop-color="#a20000"/><stop offset="0.6897" stop-color="#890000"/><stop offset="0.6952" stop-color="#b00000"/><stop offset="0.7019" stop-color="#fd0000"/><stop offset="0.7197" stop-color="#fff400"/><stop offset="0.7208" stop-color="#faff02"/><stop offset="0.7297" stop-color="#62fa42"/><stop offset="0.7308" stop-color="#00f65a"/><stop offset="0.7364" stop-color="#00ffb9"/><stop offset="0.7419" stop-color="#00faff"/><stop offset="0.7508" stop-color="#00a7ff"/><stop offset="0.7597" stop-color="#0063ff"/><stop offset="0.7697" stop-color="#0027ff"/><stop offset="0.7786" stop-color="#0000fd"/><stop offset="0.792" stop-color="#0000d9"/><stop offset="0.8087" stop-color="#0000bd"/><stop offset="0.8443" stop-color="#0000a8"/><stop offset="0.901" stop-color="#0000b3"/><stop offset="1" stop-color="#0000e4"/></linearGradient>
<linearGradient id="d17" x1="0" y1="0" x2="0" y2="1"><stop offset="0" stop-color="#00c5ff"/><stop offset="0.2558" stop-color="#0056ff"/><stop offset="0.4216" stop-color="#0000ff"/><stop offset="0.5506" stop-color="#0000a6"/><stop offset="0.6007" stop-color="#000095"/><stop offset="0.6196" stop-color="#000099"/><stop offset="0.6307" stop-color="#0000a5"/><stop offset="0.6396" stop-color="#0000c2"/><stop offset="0.6485" stop-color="#0000f7"/><stop offset="0.6507" stop-color="#000fff"/><stop offset="0.6552" stop-color="#004cff"/><stop offset="0.6596" stop-color="#009cff"/><stop offset="0.6641" stop-color="#00fffc"/><stop offset="0.6663" stop-color="#00ffb1"/><stop offset="0.6685" stop-color="#00f554"/><stop offset="0.6696" stop-color="#81fa33"/><stop offset="0.673" stop-color="#fff900"/><stop offset="0.6808" stop-color="#ff0700"/><stop offset="0.6819" stop-color="#e80000"/><stop offset="0.6852" stop-color="#a10000"/><stop offset="0.6874" stop-color="#890000"/><stop offset="0.6919" stop-color="#a80000"/><stop offset="0.6986" stop-color="#fb0000"/><stop offset="0.7152" stop-color="#fffa00"/><stop offset="0.7197" stop-color="#b0fa1c"/><stop offset="0.7241" stop-color="#5dfa44"/><stop offset="0.7253" stop-color="#00f761"/><stop offset="0.7297" stop-color="#00ffb5"/><stop offset="0.7341" stop-color="#00fffa"/><stop offset="0.7353" stop-color="#00f7ff"/><stop offset="0.743" stop-color="#00a7ff"/><stop offset="0.7508" stop-color="#0065ff"/><stop offset="0.7586" stop-color="#002fff"/><stop offset="0.7675" stop-color="#0000ff"/><stop offset="0.7798" stop-color="#0000da"/><stop offset="0.7964" stop-color="#0000ba"/><stop offset="0.8309" stop-color="#0000a4"/><stop offset="0.8943" stop-color="#0000b2"/><stop offset="1" stop-color="#0000e7"/></linearGradient>
<linearGradient id="d18" x1="0" y1="0" x2="0" y2="1"><stop offset="0" stop-color="#00c6ff"/><stop offset="0.2592" stop-color="#0056ff"/><stop offset="0.4249" stop-color="#0000ff"/><stop offset="0.5539" stop-color="#0000a7"/><stop offset="0.604" stop-color="#000095"/><stop offset="0.6207" stop-color="#00009a"/><stop offset="0.6307" stop-color="#0000a9"/><stop offset="0.6396" stop-color="#0000cc"/><stop offset="0.6463" stop-color="#0000fc"/><stop offset="0.6485" stop-color="#0018ff"/><stop offset="0.6518" stop-color="#004eff"/><stop offset="0.6552" stop-color="#0092ff"/><stop offset="0.6585" stop-color="#00e8ff"/><stop offset="0.6596" stop-color="#00fff3"/><stop offset="0.6618" stop-color="#00fd94"/><stop offset="0.663" stop-color="#00f65a"/><stop offset="0.6641" stop-color="#85fa30"/><stop offset="0.6663" stop-color="#f5fe03"/><stop offset="0.6674" stop-color="#ffd900"/><stop offset="0.6719" stop-color="#ff2000"/><stop offset="0.673" stop-color="#f30000"/><stop offset="0.6752" stop-color="#a70000"/><stop offset="0.6763" stop-color="#8d0000"/><stop offset="0.6774" stop-color="#8c0000"/><stop offset="0.6796" stop-color="#a00000"/><stop offset="0.6852" stop-color="#ef0000"/><stop offset="0.6863" stop-color="#ff0200"/><stop offset="0.6997" stop-color="#fff500"/><stop offset="0.7008" stop-color="#f3fe04"/><stop offset="0.7075" stop-color="#5efa44"/><stop offset="0.7086" stop-color="#00f765"/><stop offset="0.7119" stop-color="#00ffb0"/><stop offset="0.7164" stop-color="#00fdff"/><stop offset="0.723" stop-color="#00abff"/><stop offset="0.7297" stop-color="#0067ff"/><stop offset="0.7375" stop-color="#0028ff"/><stop offset="0.7442" stop-color="#0000fe"/><stop offset="0.7553" stop-color="#0000d6"/><stop offset="0.7709" stop-color="#0000b3"/><stop offset="0.7864" stop-color="#0000a3"/><stop offset="0.8065" stop-color="#00009d"/><stop offset="0.8854" stop-color="#0000af"/><stop offset="1" stop-color="#0000ea"/></linearGradient>
<linearGradient id="d19" x1="0" y1="0" x2="0" y2="1"><stop offset="0" stop-color="#00c7ff"/><stop offset="0.2614" stop-color="#0056ff"/><stop offset="0.4283" stop-color="#0000ff"/><stop offset="0.5573" stop-color="#0000a7"/><stop offset="0.6051" stop-color="#000095"/><stop offset="0.6196" stop-color="#00009a"/><stop offset="0.6296" stop-color="#0000a8"/><stop offset="0.6374" stop-color="#0000c5"/><stop offset="0.6452" stop-color="#0000f9"/><stop offset="0.6474" stop-color="#0015ff"/><stop offset="0.6518" stop-color="#005eff"/><stop offset="0.6552" stop-color="#00a7ff"/><stop offset="0.6585" stop-color="#00fffd"/><stop offset="0.6607" stop-color="#00fea1"/><stop offset="0.6618" stop-color="#00f868"/><stop offset="0.663" stop-color="#78fa37"/><stop offset="0.6652" stop-color="#e8fe08"/><stop offset="0.6663" stop-color="#ffe400"/><stop offset="0.6719" stop-color="#fd0000"/><stop offset="0.6741" stop-color="#ae0000"/><stop offset="0.6752" stop-color="#910000"/><stop offset="0.6763" stop-color="#8b0000"/><stop offset="0.6796" stop-color="#ab0000"/><stop offset="0.6852" stop-color="#ff0000"/><stop offset="0.6986" stop-color="#fff600"/><stop offset="0.6997" stop-color="#f0fe05"/><stop offset="0.7052" stop-color="#71fa3a"/><stop offset="0.7063" stop-color="#15f64e"/><stop offset="0.7075" stop-color="#00f86b"/><stop offset="0.7108" stop-color="#00ffb6"/><stop offset="0.7141" stop-color="#00fff4"/><stop offset="0.7152" stop-color="#00f8ff"/><stop offset="0.7219" stop-color="#00a6ff"/><stop offset="0.7286" stop-color="#0062ff"/><stop offset="0.7419" stop-color="#0001ff"/><stop offset="0.7531" stop-color="#0000d6"/><stop offset="0.7686" stop-color="#0000b3"/><stop offset="0.7842" stop-color="#0000a3"/><stop offset="0.8042" stop-color="#00009c"/><stop offset="0.8843" stop-color="#0000b0"/><stop offset="1" stop-color="#0000ee"/></linearGradient>
<linearGradient id="d20" x1="0" y1="0" x2="0" y2="1"><stop offset="0" stop-color="#00c8ff"/><stop offset="0.2647" stop-color="#0056ff"/><stop offset="0.4316" stop-color="#0000ff"/><stop offset="0.5617" stop-color="#0000a6"/><stop offset="0.6073" stop-color="#000096"/><stop offset="0.6207" stop-color="#00009c"/><stop offset="0.6296" stop-color="#0000aa"/><stop offset="0.6385" stop-color="#0000cf"/><stop offset="0.644" stop-color="#0000f7"/><stop offset="0.6463" stop-color="#0011ff"/><stop offset="0.6507" stop-color="#0059ff"/><stop offset="0.6541" stop-color="#00a0ff"/><stop offset="0.6574" stop-color="#00f9ff"/><stop offset="0.6585" stop-color="#00ffdb"/><stop offset="0.6607" stop-color="#00f976"/><stop offset="0.6618" stop-color="#6cfa3d"/><stop offset="0.6641" stop-color="#dbfd0d"/><stop offset="0.6652" stop-color="#ffee00"/><stop offset="0.6707" stop-color="#ff0800"/><stop offset="0.6719" stop-color="#dc0000"/><stop offset="0.6741" stop-color="#970000"/><stop offset="0.6752" stop-color="#8a0000"/><stop offset="0.6785" stop-color="#a90000"/><stop offset="0.6841" stop-color="#fd0000"/><stop offset="0.6974" stop-color="#fff800"/><stop offset="0.6986" stop-color="#edfe06"/><stop offset="0.7041" stop-color="#6dfa3d"/><stop offset="0.7052" stop-color="#00f655"/><stop offset="0.7097" stop-color="#00ffbc"/><stop offset="0.713" stop-color="#00fffa"/><stop offset="0.7141" stop-color="#00f3ff"/><stop offset="0.7208" stop-color="#00a1ff"/><stop offset="0.7275" stop-color="#005dff"/><stop offset="0.7353" stop-color="#001fff"/><stop offset="0.7408" stop-color="#0000fc"/><stop offset="0.7519" stop-color="#0000d3"/><stop offset="0.7675" stop-color="#0000b1"/><stop offset="0.7831" stop-color="#0000a1"/><stop offset="0.8031" stop-color="#00009c"/><stop offset="0.8843" stop-color="#0000b1"/><stop offset="1" stop-color="#0000f1"/></linearGradient>
<linearGradient id="d21" x1="0" y1="0" x2="0" y2="1"><stop offset="0" stop-color="#00c9ff"/><stop offset="0.267" stop-color="#0056ff"/><stop offset="0.4349" stop-color="#0000ff"/><stop offset="0.5651" stop-color="#0000a7"/><stop offset="0.6073" stop-color="#000097"/><stop offset="0.6196" stop-color="#00009b"/><stop offset="0.6285" stop-color="#0000aa"/><stop offset="0.6352" stop-color="#0000c2"/><stop offset="0.6429" stop-color="#0000f5"/><stop offset="0.644" stop-color="#0000ff"/><stop offset="0.6452" stop-color="#000eff"/><stop offset="0.6496" stop-color="#0054ff"/><stop offset="0.6529" stop-color="#009aff"/><stop offset="0.6563" stop-color="#00f1ff"/><stop offset="0.6574" stop-color="#00ffe6"/><stop offset="0.6596" stop-color="#00fb83"/><stop offset="0.6607" stop-color="#5ffa43"/><stop offset="0.6641" stop-color="#fff900"/><stop offset="0.6696" stop-color="#ff1200"/><stop offset="0.6707" stop-color="#e60000"/><stop offset="0.673" stop-color="#9d0000"/><stop offset="0.6741" stop-color="#890000"/><stop offset="0.6774" stop-color="#a60000"/><stop offset="0.683" stop-color="#fb0000"/><stop offset="0.6963" stop-color="#fffa00"/><stop offset="0.703" stop-color="#68fa3f"/><stop offset="0.7041" stop-color="#00f65b"/><stop offset="0.7075" stop-color="#00ffac"/><stop offset="0.7119" stop-color="#00feff"/><stop offset="0.7186" stop-color="#00a8ff"/><stop offset="0.7253" stop-color="#0062ff"/><stop offset="0.7319" stop-color="#002aff"/><stop offset="0.7386" stop-color="#0000fd"/><stop offset="0.7497" stop-color="#0000d4"/><stop offset="0.7653" stop-color="#0000b1"/><stop offset="0.7809" stop-color="#0000a1"/><stop offset="0.8009" stop-color="#00009c"/><stop offset="0.8832" stop-color="#0000b2"/><stop offset="1" stop-color="#0000f5"/></linearGradient>
<linearGradient id="d22" x1="0" y1="0" x2="0" y2="1"><stop offset="0" stop-color="#00c9ff"/><stop offset="0.2692" stop-color="#0056ff"/><stop offset="0.4383" stop-color="#0000ff"/><stop offset="0.5684" stop-color="#0000a7"/><stop offset="0.6085" stop-color="#000098"/><stop offset="0.6196" stop-color="#00009c"/><stop offset="0.6285" stop-color="#0000ac"/><stop offset="0.6374" stop-color="#0000d2"/><stop offset="0.6429" stop-color="#0000fd"/><stop offset="0.6463" stop-color="#002aff"/><stop offset="0.6496" stop-color="#0064ff"/><stop offset="0.6552" stop-color="#00eaff"/><stop offset="0.6563" stop-color="#00fff0"/><stop offset="0.6585" stop-color="#00fc90"/><stop offset="0.6596" stop-color="#00f656"/><stop offset="0.6607" stop-color="#89fa2e"/><stop offset="0.663" stop-color="#f9ff02"/><stop offset="0.6641" stop-color="#ffd600"/><stop offset="0.6685" stop-color="#ff1c00"/><stop offset="0.6696" stop-color="#f00000"/><stop offset="0.6719" stop-color="#a40000"/><stop offset="0.673" stop-color="#8c0000"/><stop offset="0.6741" stop-color="#8d0000"/><stop offset="0.6763" stop-color="#a40000"/><stop offset="0.6819" stop-color="#fa0000"/><stop offset="0.6841" stop-color="#ff2300"/><stop offset="0.6952" stop-color="#fffc00"/><stop offset="0.7019" stop-color="#63fa42"/><stop offset="0.703" stop-color="#00f761"/><stop offset="0.7063" stop-color="#00ffb1"/><stop offset="0.7097" stop-color="#00fff3"/><stop offset="0.7108" stop-color="#00f8ff"/><stop offset="0.7164" stop-color="#00afff"/><stop offset="0.723" stop-color="#0067ff"/><stop offset="0.7297" stop-color="#002dff"/><stop offset="0.7364" stop-color="#0000ff"/><stop offset="0.7475" stop-color="#0000d4"/><stop offset="0.7631" stop-color="#0000b1"/><stop offset="0.7786" stop-color="#0000a1"/><stop offset="0.7998" stop-color="#00009b"/><stop offset="0.8832" stop-color="#0000b3"/><stop offset="1" stop-color="#0000f8"/></linearGradient>
<linearGradient id="d23" x1="0" y1="0" x2="0" y2="1"><stop offset="0" stop-color="#00caff"/><stop offset="0.2725" stop-color="#0056ff"/><stop offset="0.4427" stop-color="#0000ff"/><stop offset="0.5717" stop-color="#0000a7"/><stop offset="0.6085" stop-color="#00009a"/><stop offset="0.6196" stop-color="#00009e"/><stop offset="0.6285" stop-color="#0000ae"/><stop offset="0.6363" stop-color="#0000d1"/><stop offset="0.6418" stop-color="#0000fa"/><stop offset="0.644" stop-color="#0016ff"/><stop offset="0.6485" stop-color="#005fff"/><stop offset="0.6518" stop-color="#00a8ff"/><stop offset="0.6552" stop-color="#00fffa"/><stop offset="0.6574" stop-color="#00fe9d"/><stop offset="0.6585" stop-color="#00f764"/><stop offset="0.6596" stop-color="#7cfa35"/><stop offset="0.6618" stop-color="#ecfe07"/><stop offset="0.663" stop-color="#ffe100"/><stop offset="0.6674" stop-color="#ff2700"/><stop offset="0.6685" stop-color="#f90000"/><stop offset="0.6707" stop-color="#ac0000"/><stop offset="0.6719" stop-color="#900000"/><stop offset="0.673" stop-color="#8c0000"/><stop offset="0.6763" stop-color="#b00000"/><stop offset="0.6808" stop-color="#f70000"/><stop offset="0.683" stop-color="#ff2200"/><stop offset="0.6941" stop-color="#ffff00"/><stop offset="0.7008" stop-color="#5efa44"/><stop offset="0.7019" stop-color="#00f867"/><stop offset="0.7075" stop-color="#00ffe4"/><stop offset="0.7086" stop-color="#00fff9"/><stop offset="0.7097" stop-color="#00f3ff"/><stop offset="0.7164" stop-color="#009dff"/><stop offset="0.723" stop-color="#0056ff"/><stop offset="0.7308" stop-color="#0017ff"/><stop offset="0.7353" stop-color="#0000fb"/><stop offset="0.7464" stop-color="#0000d1"/><stop offset="0.762" stop-color="#0000af"/><stop offset="0.7775" stop-color="#0000a0"/><stop offset="0.7987" stop-color="#00009b"/><stop offset="0.8832" stop-color="#0000b4"/><stop offset="1" stop-color="#0000fb"/></linearGradient>
<linearGradient id="d24" x1="0" y1="0" x2="0" y2="1"><stop offset="0" stop-color="#00cbff"/><stop offset="0.2759" stop-color="#0056ff"/><stop offset="0.4461" stop-color="#0000ff"/><stop offset="0.5751" stop-color="#0000a8"/><stop offset="0.6085" stop-color="#00009b"/><stop offset="0.6196" stop-color="#0000a0"/><stop offset="0.6274" stop-color="#0000ae"/><stop offset="0.6352" stop-color="#0000d0"/><stop offset="0.6407" stop-color="#0000f8"/><stop offset="0.6429" stop-color="#0012ff"/><stop offset="0.6474" stop-color="#005aff"/><stop offset="0.6507" stop-color="#00a2ff"/><stop offset="0.6541" stop-color="#00fbff"/><stop offset="0.6563" stop-color="#00ffaa"/><stop offset="0.6574" stop-color="#00f971"/><stop offset="0.6585" stop-color="#70fa3b"/><stop offset="0.6607" stop-color="#dffd0b"/><stop offset="0.6618" stop-color="#ffeb00"/><stop offset="0.6674" stop-color="#ff0500"/><stop offset="0.6685" stop-color="#d90000"/><stop offset="0.6707" stop-color="#950000"/><stop offset="0.6719" stop-color="#8a0000"/><stop offset="0.6752" stop-color="#ad0000"/><stop offset="0.6796" stop-color="#f50000"/><stop offset="0.6808" stop-color="#ff0b00"/><stop offset="0.693" stop-color="#fdff01"/><stop offset="0.6986" stop-color="#73fa3a"/><stop offset="0.6997" stop-color="#00f550"/><stop offset="0.7041" stop-color="#00ffbe"/><stop offset="0.7075" stop-color="#00feff"/><stop offset="0.713" stop-color="#00b2ff"/><stop offset="0.7197" stop-color="#0066ff"/><stop offset="0.7264" stop-color="#002bff"/><stop offset="0.733" stop-color="#0000fd"/><stop offset="0.7442" stop-color="#0000d2"/><stop offset="0.7597" stop-color="#0000ae"/><stop offset="0.7753" stop-color="#00009f"/><stop offset="0.7964" stop-color="#00009a"/><stop offset="0.8821" stop-color="#0000b5"/><stop offset="1" stop-color="#0000ff"/></linearGradient>
<linearGradient id="d25" x1="0" y1="0" x2="0" y2="1"><stop offset="0" stop-color="#00ccff"/><stop offset="0.2781" stop-color="#0056ff"/><stop offset="0.4494" stop-color="#0000ff"/><stop offset="0.5784" stop-color="#0000a8"/><stop offset="0.614" stop-color="#00009a"/><stop offset="0.624" stop-color="#00009f"/><stop offset="0.6307" stop-color="#0000ac"/><stop offset="0.6374" stop-color="#0000cd"/><stop offset="0.6429" stop-color="#0000fb"/><stop offset="0.6452" stop-color="#001dff"/><stop offset="0.6485" stop-color="#005eff"/><stop offset="0.6518" stop-color="#00b5ff"/><stop offset="0.6541" stop-color="#00fcff"/><stop offset="0.6552" stop-color="#00ffd0"/><stop offset="0.6574" stop-color="#00f554"/><stop offset="0.6585" stop-color="#95fa29"/><stop offset="0.6596" stop-color="#d6fd0f"/><stop offset="0.6607" stop-color="#ffeb00"/><stop offset="0.6652" stop-color="#ff1300"/><stop offset="0.6663" stop-color="#e00000"/><stop offset="0.6685" stop-color="#910000"/><stop offset="0.6696" stop-color="#8e0000"/><stop offset="0.6719" stop-color="#b40000"/><stop offset="0.6741" stop-color="#ec0000"/><stop offset="0.6752" stop-color="#ff0c00"/><stop offset="0.683" stop-color="#f8ff02"/><stop offset="0.6863" stop-color="#74fa39"/><stop offset="0.6874" stop-color="#00f762"/><stop offset="0.6897" stop-color="#00ffba"/><stop offset="0.6919" stop-color="#00fcff"/><stop offset="0.6952" stop-color="#00b2ff"/><stop offset="0.6997" stop-color="#0060ff"/><stop offset="0.7041" stop-color="#0021ff"/><stop offset="0.7075" stop-color="#0000fc"/><stop offset="0.7152" stop-color="#0000cc"/><stop offset="0.7264" stop-color="#0000a7"/><stop offset="0.7397" stop-color="#000099"/><stop offset="0.762" stop-color="#000095"/><stop offset="0.8654" stop-color="#0000ae"/><stop offset="1" stop-color="#0004ff"/></linearGradient>
<linearGradient id="d26" x1="0" y1="0" x2="0" y2="1"><stop offset="0" stop-color="#00cdff"/><stop offset="0.2814" stop-color="#0056ff"/><stop offset="0.4527" stop-color="#0000ff"/><stop offset="0.5829" stop-color="#0000a8"/><stop offset="0.6151" stop-color="#00009c"/><stop offset="0.6251" stop-color="#0000a1"/><stop offset="0.6318" stop-color="#0000b0"/><stop offset="0.6385" stop-color="#0000d4"/><stop offset="0.6429" stop-color="#0000fb"/><stop offset="0.6452" stop-color="#001dff"/><stop offset="0.6485" stop-color="#005eff"/><stop offset="0.6518" stop-color="#00b5ff"/><stop offset="0.6541" stop-color="#00fcff"/><stop offset="0.6552" stop-color="#00ffd0"/><stop offset="0.6574" stop-color="#00f554"/><stop offset="0.6585" stop-color="#95fa29"/><stop offset="0.6596" stop-color="#d6fd0f"/><stop offset="0.6607" stop-color="#ffeb00"/><stop offset="0.6652" stop-color="#ff1300"/><stop offset="0.6663" stop-color="#e00000"/><stop offset="0.6685" stop-color="#910000"/><stop offset="0.6696" stop-color="#8e0000"/><stop offset="0.6719" stop-color="#b70000"/><stop offset="0.6741" stop-color="#f30000"/><stop offset="0.6752" stop-color="#ff1600"/><stop offset="0.6819" stop-color="#fff600"/><stop offset="0.683" stop-color="#dbfd0d"/><stop offset="0.6852" stop-color="#7efa34"/><stop offset="0.6863" stop-color="#00f658"/><stop offset="0.6885" stop-color="#00ffb6"/><stop offset="0.6908" stop-color="#00fcff"/><stop offset="0.6941" stop-color="#00aeff"/><stop offset="0.6974" stop-color="#006dff"/><stop offset="0.7008" stop-color="#0037ff"/><stop offset="0.7052" stop-color="#0000ff"/><stop offset="0.713" stop-color="#0000cc"/><stop offset="0.7241" stop-color="#0000a6"/><stop offset="0.7364" stop-color="#000098"/><stop offset="0.7586" stop-color="#000094"/><stop offset="0.861" stop-color="#0000ad"/><stop offset="0.9911" stop-color="#0000fe"/><stop offset="1" stop-color="#0008ff"/></linearGradient>
<linearGradient id="d27" x1="0" y1="0" x2="0" y2="1"><stop offset="0" stop-color="#00ceff"/><stop offset="0.2836" stop-color="#0056ff"/><stop offset="0.4561" stop-color="#0000ff"/><stop offset="0.5907" stop-color="#0000a5"/><stop offset="0.6429" stop-color="#000094"/><stop offset="0.6529" stop-color="#000096"/><stop offset="0.6574" stop-color="#0000a3"/><stop offset="0.6607" stop-color="#0000cb"/><stop offset="0.663" stop-color="#0000fe"/><stop offset="0.6641" stop-color="#002eff"/><stop offset="0.6652" stop-color="#0069ff"/><stop offset="0.6674" stop-color="#00fffb"/><stop offset="0.6685" stop-color="#00fa7e"/><stop offset="0.6696" stop-color="#b2fa1b"/><stop offset="0.6707" stop-color="#ffd700"/><stop offset="0.673" stop-color="#ff2000"/><stop offset="0.6741" stop-color="#d90000"/><stop offset="0.6752" stop-color="#aa0000"/><stop offset="0.6763" stop-color="#940000"/><stop offset="0.6774" stop-color="#9a0000"/><stop offset="0.6785" stop-color="#b80000"/><stop offset="0.6796" stop-color="#ee0000"/><stop offset="0.6808" stop-color="#ff3700"/><stop offset="0.683" stop-color="#ffeb00"/><stop offset="0.6841" stop-color="#9bfa25"/><stop offset="0.6852" stop-color="#00fc91"/><stop offset="0.6863" stop-color="#00faff"/><stop offset="0.6885" stop-color="#0068ff"/><stop offset="0.6897" stop-color="#002fff"/><stop offset="0.6908" stop-color="#0002ff"/><stop offset="0.6919" stop-color="#0000e3"/><stop offset="0.6952" stop-color="#0000ae"/><stop offset="0.6974" stop-color="#00009e"/><stop offset="0.7008" stop-color="#000096"/><stop offset="0.772" stop-color="#000095"/><stop offset="0.8632" stop-color="#0000ae"/><stop offset="0.9878" stop-color="#0000ff"/><stop offset="1" stop-color="#000cff"/></linearGradient>
<linearGradient id="d28" x1="0" y1="0" x2="0" y2="1"><stop offset="0" stop-color="#00ceff"/><stop offset="0.2859" stop-color="#0056ff"/><stop offset="0.4594" stop-color="#0000ff"/><stop offset="0.594" stop-color="#0000a6"/><stop offset="0.6452" stop-color="#000094"/><stop offset="0.6563" stop-color="#000095"/><stop offset="0.6607" stop-color="#00009e"/><stop offset="0.6641" stop-color="#0000bd"/><stop offset="0.6663" stop-color="#0000e8"/><stop offset="0.6674" stop-color="#000cff"/><stop offset="0.6685" stop-color="#003eff"/><stop offset="0.6707" stop-color="#00c7ff"/><stop offset="0.6719" stop-color="#00ffd9"/><stop offset="0.673" stop-color="#00f554"/><stop offset="0.6741" stop-color="#d7fd0e"/><stop offset="0.6752" stop-color="#ffba00"/><stop offset="0.6774" stop-color="#ff0a00"/><stop offset="0.6785" stop-color="#c90000"/><stop offset="0.6796" stop-color="#a10000"/><stop offset="0.6808" stop-color="#930000"/><stop offset="0.6819" stop-color="#a00000"/><stop offset="0.683" stop-color="#c60000"/><stop offset="0.6841" stop-color="#ff0200"/><stop offset="0.6863" stop-color="#ffa800"/><stop offset="0.6874" stop-color="#f4fe04"/><stop offset="0.6885" stop-color="#77fa38"/><stop offset="0.6897" stop-color="#00ffb6"/><stop offset="0.6908" stop-color="#00e2ff"/><stop offset="0.693" stop-color="#0056ff"/><stop offset="0.6941" stop-color="#0021ff"/><stop offset="0.6952" stop-color="#0000f7"/><stop offset="0.6974" stop-color="#0000c8"/><stop offset="0.6997" stop-color="#0000ab"/><stop offset="0.7041" stop-color="#000097"/><stop offset="0.7564" stop-color="#000094"/><stop offset="0.8532" stop-color="#0000ab"/><stop offset="0.9844" stop-color="#0000ff"/><stop offset="1" stop-color="#0010ff"/></linearGradient>
<linearGradient id="d29" x1="0" y1="0" x2="0" y2="1"><stop offset="0" stop-color="#00cfff"/><stop offset="0.2892" stop-color="#0056ff"/><stop offset="0.4627" stop-color="#0000ff"/><stop offset="0.5984" stop-color="#0000a5"/><stop offset="0.6507" stop-color="#000094"/><stop offset="0.6596" stop-color="#000096"/><stop offset="0.6641" stop-color="#0000a2"/><stop offset="0.6663" stop-color="#0000b7"/><stop offset="0.6685" stop-color="#0000df"/><stop offset="0.6696" stop-color="#0000fc"/><stop offset="0.6707" stop-color="#002bff"/><stop offset="0.6719" stop-color="#0065ff"/><stop offset="0.6741" stop-color="#00fcff"/><stop offset="0.6752" stop-color="#00fb88"/><stop offset="0.6763" stop-color="#a9fa1f"/><stop offset="0.6774" stop-color="#ffdd00"/><stop offset="0.6796" stop-color="#ff2500"/><stop offset="0.6808" stop-color="#dd0000"/><stop offset="0.6819" stop-color="#ac0000"/><stop offset="0.683" stop-color="#950000"/><stop offset="0.6841" stop-color="#990000"/><stop offset="0.6852" stop-color="#b50000"/><stop offset="0.6863" stop-color="#e90000"/><stop offset="0.6874" stop-color="#ff3200"/><stop offset="0.6897" stop-color="#ffe500"/><stop offset="0.6908" stop-color="#a4fa21"/><stop offset="0.6919" stop-color="#00fb88"/><stop offset="0.693" stop-color="#00fffe"/><stop offset="0.6952" stop-color="#006cff"/><stop offset="0.6963" stop-color="#0033ff"/><stop offset="0.6974" stop-color="#0005ff"/><stop offset="0.6986" stop-color="#0000e5"/><stop offset="0.7019" stop-color="#0000ae"/><stop offset="0.7041" stop-color="#00009f"/><stop offset="0.7075" stop-color="#000096"/><stop offset="0.7697" stop-color="#000095"/><stop offset="0.8643" stop-color="#0000b1"/><stop offset="0.9811" stop-color="#0000ff"/><stop offset="1" stop-color="#0014ff"/></linearGradient>
<linearGradient id="d30" x1="0" y1="0" x2="0" y2="1"><stop offset="0" stop-color="#00d0ff"/><stop offset="0.2914" stop-color="#0056ff"/><stop offset="0.4661" stop-color="#0000ff"/><stop offset="0.6018" stop-color="#0000a5"/><stop offset="0.6541" stop-color="#000094"/><stop offset="0.663" stop-color="#000097"/><stop offset="0.6663" stop-color="#0000a0"/><stop offset="0.6685" stop-color="#0000b4"/><stop offset="0.6719" stop-color="#0000f4"/><stop offset="0.673" stop-color="#001eff"/><stop offset="0.6741" stop-color="#0055ff"/><stop offset="0.6763" stop-color="#00e7ff"/><stop offset="0.6774" stop-color="#00ffab"/><stop offset="0.6785" stop-color="#88fa2f"/><stop offset="0.6796" stop-color="#fff600"/><stop offset="0.6819" stop-color="#ff3a00"/><stop offset="0.683" stop-color="#ed0000"/><stop offset="0.6841" stop-color="#b60000"/><stop offset="0.6852" stop-color="#980000"/><stop offset="0.6863" stop-color="#950000"/><stop offset="0.6874" stop-color="#ac0000"/><stop offset="0.6885" stop-color="#db0000"/><stop offset="0.6897" stop-color="#ff1e00"/><stop offset="0.6919" stop-color="#ffcd00"/><stop offset="0.693" stop-color="#c3fb15"/><stop offset="0.6941" stop-color="#00f766"/><stop offset="0.6952" stop-color="#00ffe3"/><stop offset="0.6963" stop-color="#00c3ff"/><stop offset="0.6986" stop-color="#0040ff"/><stop offset="0.6997" stop-color="#000fff"/><stop offset="0.7008" stop-color="#0000ec"/><stop offset="0.7041" stop-color="#0000b1"/><stop offset="0.7063" stop-color="#0000a0"/><stop offset="0.7097" stop-color="#000097"/><stop offset="0.7642" stop-color="#000095"/><stop offset="0.861" stop-color="#0000b0"/><stop offset="0.9778" stop-color="#0000ff"/><stop offset="1" stop-color="#0018ff"/></linearGradient>
<linearGradient id="d31" x1="0" y1="0" x2="0" y2="1"><stop offset="0" stop-color="#00d1ff"/><stop offset="0.2937" stop-color="#0057ff"/><stop offset="0.4694" stop-color="#0000ff"/><stop offset="0.6051" stop-color="#0000a6"/><stop offset="0.6563" stop-color="#000094"/><stop offset="0.6663" stop-color="#0000a0"/><stop offset="0.6685" stop-color="#0000b4"/><stop offset="0.6719" stop-color="#0000f4"/><stop offset="0.673" stop-color="#001eff"/><stop offset="0.6741" stop-color="#0055ff"/><stop offset="0.6763" stop-color="#00e7ff"/><stop offset="0.6774" stop-color="#00ffab"/><stop offset="0.6785" stop-color="#88fa2f"/><stop offset="0.6796" stop-color="#fff600"/><stop offset="0.6819" stop-color="#ff3a00"/><stop offset="0.683" stop-color="#ed0000"/><stop offset="0.6841" stop-color="#b60000"/><stop offset="0.6852" stop-color="#980000"/><stop offset="0.6863" stop-color="#950000"/><stop offset="0.6874" stop-color="#ac0000"/><stop offset="0.6885" stop-color="#db0000"/><stop offset="0.6897" stop-color="#ff1e00"/><stop offset="0.6919" stop-color="#ffcd00"/><stop offset="0.693" stop-color="#c3fb15"/><stop offset="0.6941" stop-color="#00f766"/><stop offset="0.6952" stop-color="#00ffe3"/><stop offset="0.6963" stop-color="#00c3ff"/><stop offset="0.6986" stop-color="#0040ff"/><stop offset="0.6997" stop-color="#000fff"/><stop offset="0.7008" stop-color="#0000ec"/><stop offset="0.7041" stop-color="#0000b1"/><stop offset="0.7063" stop-color="#0000a0"/><stop offset="0.7097" stop-color="#000097"/><stop offset="0.7642" stop-color="#000095"/><stop offset="0.8587" stop-color="#0000af"/><stop offset="0.9744" stop-color="#0000ff"/><stop offset="1" stop-color="#001dff"/></linearGradient>
<linearGradient id="d32" x1="0" y1="0" x2="0" y2="1"><stop offset="0" stop-color="#00d1ff"/><stop offset="0.2959" stop-color="#0057ff"/><stop offset="0.4727" stop-color="#0000ff"/><stop offset="0.6096" stop-color="#0000a5"/><stop offset="0.6596" stop-color="#000094"/><stop offset="0.6696" stop-color="#00009f"/><stop offset="0.673" stop-color="#0000be"/><stop offset="0.6752" stop-color="#0000e9"/><stop offset="0.6763" stop-color="#000dff"/><stop offset="0.6774" stop-color="#003fff"/><stop offset="0.6796" stop-color="#00c6ff"/><stop offset="0.6808" stop-color="#00ffdd"/><stop offset="0.6819" stop-color="#00f65c"/><stop offset="0.683" stop-color="#cdfc12"/><stop offset="0.6841" stop-color="#ffc600"/><stop offset="0.6852" stop-color="#ff6d00"/><stop offset="0.6863" stop-color="#ff2000"/><stop offset="0.6874" stop-color="#e40000"/><stop offset="0.6885" stop-color="#c10000"/><stop offset="0.6897" stop-color="#b70000"/><stop offset="0.6908" stop-color="#c70000"/><stop offset="0.6919" stop-color="#ee0000"/><stop offset="0.693" stop-color="#ff2b00"/><stop offset="0.6952" stop-color="#ffce00"/><stop offset="0.6963" stop-color="#c7fc14"/><stop offset="0.6974" stop-color="#00f65c"/><stop offset="0.6986" stop-color="#00ffd9"/><stop offset="0.6997" stop-color="#00ccff"/><stop offset="0.7019" stop-color="#0047ff"/><stop offset="0.703" stop-color="#0015ff"/><stop offset="0.7041" stop-color="#0000f0"/><stop offset="0.7075" stop-color="#0000b4"/><stop offset="0.7097" stop-color="#0000a1"/><stop offset="0.713" stop-color="#000097"/><stop offset="0.7608" stop-color="#000094"/><stop offset="0.8565" stop-color="#0000af"/><stop offset="0.9711" stop-color="#0000ff"/><stop offset="1" stop-color="#0021ff"/></linearGradient>
<linearGradient id="cbd" x1="0" y1="0" x2="0" y2="1"><stop offset="0" stop-color="#800000"/><stop offset="0.125" stop-color="#ff0000"/><stop offset="0.25" stop-color="#ff8000"/><stop offset="0.375" stop-color="#ffff00"/><stop offset="0.44" stop-color="#aafa1e"/><stop offset="0.4995" stop-color="#5afa46"/><stop offset="0.5005" stop-color="#00f550"/><stop offset="0.56" stop-color="#00ffaa"/><stop offset="0.625" stop-color="#00ffff"/><stop offset="0.75" stop-color="#0080ff"/><stop offset="0.875" stop-color="#0000ff"/><stop offset="0.94" stop-color="#0000c8"/><stop offset="1" stop-color="#00008c"/></linearGradient>
<linearGradient id="e0" x1="0" y1="0" x2="0" y2="1"><stop offset="0" stop-color="#00cfff"/><stop offset="0.4496" stop-color="#0000ff"/><stop offset="0.5797" stop-color="#0000c8"/><stop offset="0.6762" stop-color="#000090"/><stop offset="0.6984" stop-color="#000097"/><stop offset="0.7019" stop-color="#0000b2"/><stop offset="0.7041" stop-color="#0000d7"/><stop offset="0.7055" stop-color="#0000fc"/><stop offset="0.7062" stop-color="#0019ff"/><stop offset="0.7076" stop-color="#0061ff"/><stop offset="0.7098" stop-color="#00f2ff"/><stop offset="0.7105" stop-color="#00ffc5"/><stop offset="0.7112" stop-color="#00f86f"/><stop offset="0.7119" stop-color="#91fa2a"/><stop offset="0.7127" stop-color="#e5fd09"/><stop offset="0.7134" stop-color="#ffd200"/><stop offset="0.7155" stop-color="#ff1f00"/><stop offset="0.7162" stop-color="#ed0000"/><stop offset="0.7177" stop-color="#a50000"/><stop offset="0.7191" stop-color="#850000"/><stop offset="0.7198" stop-color="#860000"/><stop offset="0.7205" stop-color="#950000"/><stop offset="0.7212" stop-color="#ad0000"/><stop offset="0.7227" stop-color="#ed0000"/><stop offset="0.7234" stop-color="#ff1500"/><stop offset="0.7269" stop-color="#fff700"/><stop offset="0.7277" stop-color="#cefc11"/><stop offset="0.7291" stop-color="#5bfa45"/><stop offset="0.7298" stop-color="#00fc8b"/><stop offset="0.7312" stop-color="#00fff2"/><stop offset="0.732" stop-color="#00e7ff"/><stop offset="0.7334" stop-color="#00a8ff"/><stop offset="0.7355" stop-color="#005dff"/><stop offset="0.7377" stop-color="#0024ff"/><stop offset="0.7398" stop-color="#0000fc"/><stop offset="0.7427" stop-color="#0000e0"/><stop offset="0.7462" stop-color="#0000cc"/><stop offset="0.7584" stop-color="#0000b4"/><stop offset="0.7913" stop-color="#00009f"/><stop offset="0.8385" stop-color="#000094"/><stop offset="0.8863" stop-color="#0000ad"/><stop offset="0.9664" stop-color="#0000ff"/><stop offset="1" stop-color="#0033ff"/></linearGradient>
<linearGradient id="e1" x1="0" y1="0" x2="0" y2="1"><stop offset="0" stop-color="#00cdff"/><stop offset="0.4375" stop-color="#0000ff"/><stop offset="0.5661" stop-color="#0000c8"/><stop offset="0.6605" stop-color="#000090"/><stop offset="0.6826" stop-color="#000096"/><stop offset="0.6862" stop-color="#0000ae"/><stop offset="0.6883" stop-color="#0000d0"/><stop offset="0.6898" stop-color="#0000f2"/><stop offset="0.6905" stop-color="#000bff"/><stop offset="0.6912" stop-color="#002aff"/><stop offset="0.6926" stop-color="#0077ff"/><stop offset="0.6941" stop-color="#00d8ff"/><stop offset="0.6948" stop-color="#00ffea"/><stop offset="0.6955" stop-color="#00fd9c"/><stop offset="0.6962" stop-color="#68fa3f"/><stop offset="0.6969" stop-color="#bcfb18"/><stop offset="0.6976" stop-color="#fff200"/><stop offset="0.6991" stop-color="#ff7400"/><stop offset="0.7005" stop-color="#ff0500"/><stop offset="0.7019" stop-color="#b30000"/><stop offset="0.7026" stop-color="#980000"/><stop offset="0.7041" stop-color="#830000"/><stop offset="0.7055" stop-color="#a00000"/><stop offset="0.7076" stop-color="#ff0000"/><stop offset="0.7112" stop-color="#ffdc00"/><stop offset="0.7119" stop-color="#f1fe05"/><stop offset="0.7134" stop-color="#7efa34"/><stop offset="0.7141" stop-color="#00f765"/><stop offset="0.7148" stop-color="#00fea1"/><stop offset="0.7162" stop-color="#00fdff"/><stop offset="0.7184" stop-color="#00a0ff"/><stop offset="0.7205" stop-color="#0058ff"/><stop offset="0.7227" stop-color="#0023ff"/><stop offset="0.7248" stop-color="#0000fd"/><stop offset="0.7277" stop-color="#0000e2"/><stop offset="0.732" stop-color="#0000cd"/><stop offset="0.7484" stop-color="#0000b3"/><stop offset="0.7848" stop-color="#00009d"/><stop offset="0.8377" stop-color="#000093"/><stop offset="0.8821" stop-color="#0000ad"/><stop offset="0.9564" stop-color="#0000ff"/><stop offset="1" stop-color="#004aff"/></linearGradient>
<linearGradient id="e2" x1="0" y1="0" x2="0" y2="1"><stop offset="0" stop-color="#00caff"/><stop offset="0.4246" stop-color="#0000ff"/><stop offset="0.5504" stop-color="#0000c8"/><stop offset="0.6426" stop-color="#000090"/><stop offset="0.6648" stop-color="#000096"/><stop offset="0.6683" stop-color="#0000ac"/><stop offset="0.6705" stop-color="#0000ce"/><stop offset="0.6719" stop-color="#0000ef"/><stop offset="0.6726" stop-color="#0006ff"/><stop offset="0.6733" stop-color="#0024ff"/><stop offset="0.6748" stop-color="#0070ff"/><stop offset="0.6762" stop-color="#00cfff"/><stop offset="0.6769" stop-color="#00fff6"/><stop offset="0.6776" stop-color="#00ffab"/><stop offset="0.6783" stop-color="#36f84a"/><stop offset="0.6791" stop-color="#aefa1d"/><stop offset="0.6798" stop-color="#fffd00"/><stop offset="0.6812" stop-color="#ff7e00"/><stop offset="0.6826" stop-color="#ff0d00"/><stop offset="0.6833" stop-color="#de0000"/><stop offset="0.6848" stop-color="#9c0000"/><stop offset="0.6862" stop-color="#840000"/><stop offset="0.6876" stop-color="#9c0000"/><stop offset="0.6898" stop-color="#f70000"/><stop offset="0.6912" stop-color="#ff4a00"/><stop offset="0.6941" stop-color="#fffe00"/><stop offset="0.6955" stop-color="#8efa2c"/><stop offset="0.6962" stop-color="#00f553"/><stop offset="0.6969" stop-color="#00fc8f"/><stop offset="0.6984" stop-color="#00fff2"/><stop offset="0.6991" stop-color="#00e8ff"/><stop offset="0.7012" stop-color="#0091ff"/><stop offset="0.7034" stop-color="#004fff"/><stop offset="0.7055" stop-color="#001eff"/><stop offset="0.7076" stop-color="#0000fc"/><stop offset="0.7112" stop-color="#0000df"/><stop offset="0.7162" stop-color="#0000cc"/><stop offset="0.7391" stop-color="#0000af"/><stop offset="0.7784" stop-color="#00009b"/><stop offset="0.8377" stop-color="#000092"/><stop offset="0.8792" stop-color="#0000ad"/><stop offset="0.9478" stop-color="#0000ff"/><stop offset="1" stop-color="#0061ff"/></linearGradient>
<linearGradient id="e3" x1="0" y1="0" x2="0" y2="1"><stop offset="0" stop-color="#00c8ff"/><stop offset="0.4117" stop-color="#0000ff"/><stop offset="0.5347" stop-color="#0000c8"/><stop offset="0.6262" stop-color="#000090"/><stop offset="0.6483" stop-color="#000097"/><stop offset="0.6519" stop-color="#0000b2"/><stop offset="0.654" stop-color="#0000d7"/><stop offset="0.6555" stop-color="#0000fb"/><stop offset="0.6562" stop-color="#0018ff"/><stop offset="0.6576" stop-color="#005fff"/><stop offset="0.6598" stop-color="#00f0ff"/><stop offset="0.6605" stop-color="#00ffc9"/><stop offset="0.6612" stop-color="#00f974"/><stop offset="0.6619" stop-color="#8dfa2d"/><stop offset="0.6626" stop-color="#e1fd0b"/><stop offset="0.6633" stop-color="#ffd600"/><stop offset="0.6655" stop-color="#ff2200"/><stop offset="0.6662" stop-color="#ef0000"/><stop offset="0.6676" stop-color="#a60000"/><stop offset="0.669" stop-color="#850000"/><stop offset="0.6698" stop-color="#860000"/><stop offset="0.6705" stop-color="#930000"/><stop offset="0.6726" stop-color="#e70000"/><stop offset="0.6733" stop-color="#ff0e00"/><stop offset="0.6769" stop-color="#ffe900"/><stop offset="0.6776" stop-color="#e3fd0a"/><stop offset="0.6791" stop-color="#72fa3a"/><stop offset="0.6798" stop-color="#00f970"/><stop offset="0.6805" stop-color="#00ffa9"/><stop offset="0.6819" stop-color="#00fbff"/><stop offset="0.6841" stop-color="#00a2ff"/><stop offset="0.6862" stop-color="#005dff"/><stop offset="0.6891" stop-color="#001dff"/><stop offset="0.6912" stop-color="#0000fd"/><stop offset="0.6955" stop-color="#0000de"/><stop offset="0.7012" stop-color="#0000cc"/><stop offset="0.7298" stop-color="#0000ab"/><stop offset="0.772" stop-color="#000099"/><stop offset="0.8377" stop-color="#000092"/><stop offset="0.8763" stop-color="#0000ac"/><stop offset="0.9414" stop-color="#0000ff"/><stop offset="1" stop-color="#0077ff"/></linearGradient>
<linearGradient id="e4" x1="0" y1="0" x2="0" y2="1"><stop offset="0" stop-color="#00c5ff"/><stop offset="0.3974" stop-color="#0000ff"/><stop offset="0.5182" stop-color="#0000c8"/><stop offset="0.6076" stop-color="#000090"/><stop offset="0.6297" stop-color="#000096"/><stop offset="0.6333" stop-color="#0000ac"/><stop offset="0.6355" stop-color="#0000ce"/><stop offset="0.6369" stop-color="#0000ee"/><stop offset="0.6376" stop-color="#0005ff"/><stop offset="0.639" stop-color="#0046ff"/><stop offset="0.6405" stop-color="#009bff"/><stop offset="0.6419" stop-color="#00fff9"/><stop offset="0.6426" stop-color="#00ffae"/><stop offset="0.6433" stop-color="#00f552"/><stop offset="0.644" stop-color="#abfa1e"/><stop offset="0.6447" stop-color="#ffff00"/><stop offset="0.6455" stop-color="#ffbf00"/><stop offset="0.6476" stop-color="#ff0f00"/><stop offset="0.6483" stop-color="#df0000"/><stop offset="0.6497" stop-color="#9d0000"/><stop offset="0.6512" stop-color="#840000"/><stop offset="0.6526" stop-color="#9a0000"/><stop offset="0.6548" stop-color="#f30000"/><stop offset="0.6555" stop-color="#ff1a00"/><stop offset="0.659" stop-color="#fff400"/><stop offset="0.6598" stop-color="#d4fc0f"/><stop offset="0.6612" stop-color="#66fa40"/><stop offset="0.6619" stop-color="#00fa7c"/><stop offset="0.6633" stop-color="#00ffe1"/><stop offset="0.664" stop-color="#00f5ff"/><stop offset="0.6662" stop-color="#009fff"/><stop offset="0.669" stop-color="#004bff"/><stop offset="0.6719" stop-color="#0014ff"/><stop offset="0.6741" stop-color="#0000f9"/><stop offset="0.6783" stop-color="#0000df"/><stop offset="0.6848" stop-color="#0000cd"/><stop offset="0.7198" stop-color="#0000a8"/><stop offset="0.7641" stop-color="#000097"/><stop offset="0.8377" stop-color="#000091"/><stop offset="0.8742" stop-color="#0000ac"/><stop offset="0.935" stop-color="#0000ff"/><stop offset="1" stop-color="#008eff"/></linearGradient>
<linearGradient id="e5" x1="0" y1="0" x2="0" y2="1"><stop offset="0" stop-color="#00c3ff"/><stop offset="0.3846" stop-color="#0000ff"/><stop offset="0.5032" stop-color="#0000c8"/><stop offset="0.5911" stop-color="#000090"/><stop offset="0.614" stop-color="#000098"/><stop offset="0.6176" stop-color="#0000b2"/><stop offset="0.6197" stop-color="#0000d8"/><stop offset="0.6212" stop-color="#0000fd"/><stop offset="0.6219" stop-color="#001bff"/><stop offset="0.6233" stop-color="#0063ff"/><stop offset="0.6254" stop-color="#00f5ff"/><stop offset="0.6262" stop-color="#00ffc2"/><stop offset="0.6269" stop-color="#00f86b"/><stop offset="0.6276" stop-color="#94fa29"/><stop offset="0.6283" stop-color="#e9fe08"/><stop offset="0.629" stop-color="#ffd000"/><stop offset="0.6312" stop-color="#ff1d00"/><stop offset="0.6319" stop-color="#eb0000"/><stop offset="0.6333" stop-color="#a30000"/><stop offset="0.6347" stop-color="#850000"/><stop offset="0.6355" stop-color="#860000"/><stop offset="0.6362" stop-color="#940000"/><stop offset="0.6383" stop-color="#e80000"/><stop offset="0.639" stop-color="#ff0e00"/><stop offset="0.6426" stop-color="#ffe400"/><stop offset="0.6433" stop-color="#e9fe08"/><stop offset="0.6447" stop-color="#7bfa35"/><stop offset="0.6455" stop-color="#00f765"/><stop offset="0.6462" stop-color="#00fe9d"/><stop offset="0.6476" stop-color="#00fff8"/><stop offset="0.6505" stop-color="#0094ff"/><stop offset="0.6526" stop-color="#0056ff"/><stop offset="0.6555" stop-color="#001eff"/><stop offset="0.6576" stop-color="#0001ff"/><stop offset="0.6583" stop-color="#0000fa"/><stop offset="0.6633" stop-color="#0000df"/><stop offset="0.6705" stop-color="#0000ce"/><stop offset="0.7098" stop-color="#0000a6"/><stop offset="0.757" stop-color="#000096"/><stop offset="0.8377" stop-color="#000091"/><stop offset="0.8721" stop-color="#0000ac"/><stop offset="0.9299" stop-color="#0000ff"/><stop offset="1" stop-color="#00a4ff"/></linearGradient>
<linearGradient id="cbe" x1="0" y1="0" x2="0" y2="1"><stop offset="0" stop-color="#800000"/><stop offset="0.125" stop-color="#ff0000"/><stop offset="0.25" stop-color="#ff8000"/><stop offset="0.375" stop-color="#ffff00"/><stop offset="0.44" stop-color="#aafa1e"/><stop offset="0.4995" stop-color="#5afa46"/><stop offset="0.5005" stop-color="#00f550"/><stop offset="0.56" stop-color="#00ffaa"/><stop offset="0.625" stop-color="#00ffff"/><stop offset="0.75" stop-color="#0080ff"/><stop offset="0.875" stop-color="#0000ff"/><stop offset="0.94" stop-color="#0000c8"/><stop offset="1" stop-color="#00008c"/></linearGradient>
</defs>
<polygon points="204,177.6 281.3,499.8 272.6,555.8 195,233.7" fill="#0078f0" stroke="#000" stroke-width="0.7" stroke-linejoin="round" />
<polygon points="281.3,499.8 696.5,467 689,525.5 272.6,555.8" fill="#008cff" stroke="#000" stroke-width="0.7" stroke-linejoin="round" />
<polygon points="204,177.6 620,147 696.5,467 281.3,499.8" fill="#00c8ff" stroke="#000" stroke-width="0.7" stroke-linejoin="round" />
<polygon points="242.4,147 310.1,426.3 302.8,476.1 234.7,196.4" fill="#8e0000" stroke="#000" stroke-width="0.7" stroke-linejoin="round" />
<polygon points="310.1,426.3 395.7,420 388.2,469.8 302.8,476.1" fill="#a50000" stroke="#000" stroke-width="0.7" stroke-linejoin="round" />
<polygon points="242.4,147 328,140.3 395.7,420 310.1,426.3" fill="#d0100c" stroke="#000" stroke-width="0.7" stroke-linejoin="round" />
<polygon points="395.12,252.8 386.92,301.4 386.52,304.16 386.25,306.94 386.1,309.73 386.09,312.54 386.2,315.35 386.45,318.16 386.82,320.97 387.32,323.78 387.94,326.59 388.69,329.38 389.57,332.16 390.58,334.92 391.7,337.67 392.95,340.39 394.32,343.08 395.81,345.74 397.41,348.37 399.13,350.96 400.96,353.51 402.91,356.02 404.96,358.49 407.12,360.9 409.38,363.26 411.74,365.57 414.2,367.82 416.75,370.01 419.39,372.14 422.12,374.2 424.94,376.19 427.84,378.12 430.82,379.97 433.87,381.74 436.99,383.44 440.18,385.06 443.43,386.59 446.74,388.05 450.11,389.42 453.52,390.7 456.98,391.89 460.49,393 464.03,394.01 467.61,394.93 471.22,395.76 474.85,396.49 478.5,397.13 482.17,397.67 485.85,398.11 489.54,398.46 493.23,398.71 496.91,398.86 500.6,398.92 504.27,398.87 507.92,398.73 511.56,398.49 515.17,398.15 518.76,397.72 522.31,397.19 525.82,396.56 529.3,395.83 532.72,395.02 536.1,394.1 539.42,393.1 542.69,392.01 545.89,390.82 549.03,389.55 552.1,388.19 555.09,386.74 558.01,385.21 560.84,383.6 563.59,381.91 566.26,380.15 568.83,378.31 571.31,376.39 573.7,374.4 575.98,372.35 578.16,370.23 580.24,368.04 582.2,365.8 584.06,363.5 585.81,361.14 587.44,358.73 588.95,356.27 590.35,353.77 591.62,351.22 592.78,348.63 593.81,346 594.72,343.35 595.5,340.66 596.15,337.94 596.68,335.2 604.88,286.6 604.88,286.6 604.35,289.34 603.7,292.06 602.92,294.75 602.01,297.4 600.98,300.03 599.82,302.62 598.55,305.17 597.15,307.67 595.64,310.13 594.01,312.54 592.26,314.9 590.4,317.2 588.44,319.44 586.36,321.63 584.18,323.75 581.9,325.8 579.51,327.79 577.03,329.71 574.46,331.55 571.79,333.31 569.04,335 566.21,336.61 563.29,338.14 560.3,339.59 557.23,340.95 554.09,342.22 550.89,343.41 547.62,344.5 544.3,345.5 540.92,346.42 537.5,347.23 534.02,347.96 530.51,348.59 526.96,349.12 523.37,349.55 519.76,349.89 516.12,350.13 512.47,350.27 508.8,350.32 505.11,350.26 501.43,350.11 497.74,349.86 494.05,349.51 490.37,349.07 486.7,348.53 483.05,347.89 479.42,347.16 475.81,346.33 472.23,345.41 468.69,344.4 465.18,343.29 461.72,342.1 458.31,340.82 454.94,339.45 451.63,337.99 448.38,336.46 445.19,334.84 442.07,333.14 439.02,331.37 436.04,329.52 433.14,327.59 430.32,325.6 427.59,323.54 424.95,321.41 422.4,319.22 419.94,316.97 417.58,314.66 415.32,312.3 413.16,309.89 411.11,307.42 409.16,304.91 407.33,302.36 405.61,299.77 404.01,297.14 402.52,294.48 401.15,291.79 399.9,289.07 398.78,286.32 397.77,283.56 396.89,280.78 396.14,277.99 395.52,275.18 395.02,272.37 394.65,269.56 394.4,266.75 394.29,263.94 394.3,261.13 394.45,258.34 394.72,255.56 395.12,252.8" fill="url(#cylg)" stroke="#000" stroke-width="0.7" stroke-linejoin="round" />
<polygon points="604,262 604.85,266.21 605.42,270.43 605.69,274.65 605.68,278.85 605.37,283.03 604.78,287.18 603.9,291.27 602.74,295.31 601.29,299.27 599.57,303.16 597.57,306.95 595.31,310.64 592.78,314.22 590,317.68 586.97,321 583.71,324.19 580.22,327.22 576.5,330.1 572.58,332.81 568.45,335.35 564.14,337.71 559.66,339.88 555.01,341.86 550.21,343.64 545.27,345.22 540.21,346.6 535.04,347.76 529.77,348.71 524.42,349.44 519,349.95 513.53,350.24 508.02,350.32 502.5,350.17 496.96,349.8 491.44,349.21 485.93,348.4 480.47,347.38 475.06,346.14 469.71,344.7 464.45,343.05 459.29,341.2 454.24,339.15 449.32,336.91 444.53,334.49 439.9,331.89 435.43,329.12 431.13,326.19 427.03,323.1 423.13,319.87 419.43,316.49 415.96,312.99 412.72,309.37 409.72,305.65 406.96,301.82 404.46,297.91 402.22,293.92 400.25,289.86 398.56,285.75 397.14,281.59 396,277.4 395.15,273.19 394.58,268.97 394.31,264.75 394.32,260.55 394.63,256.37 395.22,252.22 396.1,248.13 397.26,244.09 398.71,240.13 400.43,236.24 402.43,232.45 404.69,228.76 407.22,225.18 410,221.72 413.03,218.4 416.29,215.21 419.78,212.18 423.5,209.3 427.42,206.59 431.55,204.05 435.86,201.69 440.34,199.52 444.99,197.54 449.79,195.76 454.73,194.18 459.79,192.8 464.96,191.64 470.23,190.69 475.58,189.96 481,189.45 486.47,189.16 491.98,189.08 497.5,189.23 503.04,189.6 508.56,190.19 514.07,191 519.53,192.02 524.94,193.26 530.29,194.7 535.55,196.35 540.71,198.2 545.76,200.25 550.68,202.49 555.47,204.91 560.1,207.51 564.57,210.28 568.87,213.21 572.97,216.3 576.87,219.53 580.57,222.91 584.04,226.41 587.28,230.03 590.28,233.75 593.04,237.58 595.54,241.49 597.78,245.48 599.75,249.54 601.44,253.65 602.86,257.81" fill="#d0100c" stroke="#000" stroke-width="0.7" stroke-linejoin="round" />
<rect x="189.3" y="593.5" width="156.5" height="51.1" fill="#910000"/>
<rect x="378.9" y="593.5" width="156.8" height="51.1" fill="#00a0eb"/>
<text x="265.5" y="632.9" font-family='"Liberation Serif","DejaVu Serif",serif' font-size="42" font-weight="bold" font-style="italic" text-anchor="middle" >Ge</text>
<text x="420.5" y="632.9" font-family='"Liberation Serif","DejaVu Serif",serif' font-size="42" font-weight="bold" font-style="italic" letter-spacing="1.4">BaF<tspan font-size="27" dx="0.5">2</tspan></text>
<rect x="949" y="88.7" width="330" height="66.8" fill="#00a8ff" stroke="#1a5a90" stroke-width="0.6"/>
<rect x="999.5" y="155.5" width="163.7" height="60" fill="url(#cyls)" stroke="#600" stroke-width="0.5"/>
<rect x="1190.3" y="155.5" width="68.4" height="60" fill="#c00000" stroke="#600" stroke-width="0.5"/>
<line x1="958.3" y1="121" x2="1268.7" y2="121" stroke="#000" stroke-width="1.4" /><polygon points="1277.5,121 1266.5,125 1266.5,117" fill="#000"/><polygon points="949.5,121 960.5,117 960.5,125" fill="#000"/>
<line x1="970.9" y1="166.2" x2="970.9" y2="213.6" stroke="#000" stroke-width="1.4" /><polygon points="970.9,222 966.9,211.5 974.9,211.5" fill="#000"/><polygon points="970.9,157.8 974.9,168.3 966.9,168.3" fill="#000"/>
<text x="888" y="134" font-family='"Liberation Serif","DejaVu Serif",serif' font-size="49.5" font-weight="bold" font-style="italic" text-anchor="start" >p</text>
<text x="919.5" y="202" font-family='"Liberation Serif","DejaVu Serif",serif' font-size="47" font-weight="bold" font-style="italic" text-anchor="start" >t</text>
<rect x="945.9" y="301.4" width="321.4" height="322.4" fill="#0080ff" stroke="#5a4a50" stroke-width="0.7"/>
<circle cx="1074.8" cy="463" r="79.8" fill="#960000" stroke="#3a2a50" stroke-width="0.6"/>
<rect x="1181" y="323.2" width="66.4" height="278.8" fill="#960000" stroke="#3a2a50" stroke-width="0.6"/>
<line x1="1192.1" y1="337.1" x2="1236.6" y2="337.1" stroke="#000" stroke-width="1.3" /><polygon points="1243.8,337.1 1234.8,340.35 1234.8,333.85" fill="#000"/><polygon points="1184.9,337.1 1193.9,333.85 1193.9,340.35" fill="#000"/>
<line x1="1258.4" y1="333.6" x2="1258.4" y2="596" stroke="#000" stroke-width="1.3" /><polygon points="1258.4,604.4 1254.4,593.9 1262.4,593.9" fill="#000"/><polygon points="1258.4,325.2 1262.4,335.7 1254.4,335.7" fill="#000"/>
<line x1="1077" y1="463.6" x2="1004.7" y2="463.6" stroke="#000" stroke-width="1.3" /><polygon points="995.9,463.6 1006.9,459.6 1006.9,467.6" fill="#000"/>
<line x1="1159.2" y1="468.1" x2="1173.3" y2="468.1" stroke="#000" stroke-width="1.2" /><polygon points="1178.9,468.1 1171.9,470.85 1171.9,465.35" fill="#000"/><polygon points="1153.6,468.1 1160.6,465.35 1160.6,470.85" fill="#000"/>
<text x="1202" y="375.2" font-family='"Liberation Serif","DejaVu Serif",serif' font-size="50" font-weight="bold" font-style="italic" text-anchor="start" >w</text>
<text x="1285" y="467.5" font-family='"Liberation Serif","DejaVu Serif",serif' font-size="52" font-weight="bold" font-style="italic" text-anchor="start" >l</text>
<text x="1037" y="451.1" font-family='"Liberation Serif","DejaVu Serif",serif' font-size="50" font-weight="bold" font-style="italic" text-anchor="start" >r</text>
<text x="1148.5" y="511.5" font-family='"Liberation Serif","DejaVu Serif",serif' font-size="54" font-weight="bold" font-style="italic" text-anchor="start" >g</text>
<circle cx="764.2" cy="270.7" r="14.4" fill="#fff" stroke="#000" stroke-width="2.8"/>
<circle cx="764.2" cy="270.7" r="2.8" fill="#000"/>
<line x1="764.2" y1="256" x2="764.2" y2="195.84" stroke="#000" stroke-width="1.6" /><polygon points="764.2,184 771.2,198.8 757.2,198.8" fill="#000"/>
<line x1="780" y1="271.7" x2="836.26" y2="271.7" stroke="#000" stroke-width="1.6" /><polygon points="848.1,271.7 833.3,278.7 833.3,264.7" fill="#000"/>
<text x="784" y="182.9" font-family='"Liberation Serif","DejaVu Serif",serif' font-size="46" font-weight="normal" font-style="italic" text-anchor="start" >z</text>
<text x="714" y="285.5" font-family='"Liberation Serif","DejaVu Serif",serif' font-size="46" font-weight="normal" font-style="italic" text-anchor="start" >x</text>
<text x="861" y="286.8" font-family='"Liberation Serif","DejaVu Serif",serif' font-size="46" font-weight="normal" font-style="italic" text-anchor="start" >y</text>
<circle cx="780.3" cy="610.3" r="14.8" fill="#fff" stroke="#000" stroke-width="2.8"/>
<line x1="770.1" y1="600.1" x2="790.5" y2="620.5" stroke="#000" stroke-width="1.6" />
<line x1="770.1" y1="620.5" x2="790.5" y2="600.1" stroke="#000" stroke-width="1.6" />
<line x1="780" y1="595" x2="780" y2="535.64" stroke="#000" stroke-width="1.6" /><polygon points="780,523.8 787,538.6 773,538.6" fill="#000"/>
<line x1="796" y1="611.4" x2="851.86" y2="611.4" stroke="#000" stroke-width="1.6" /><polygon points="863.7,611.4 848.9,618.4 848.9,604.4" fill="#000"/>
<text x="801" y="522.2" font-family='"Liberation Serif","DejaVu Serif",serif' font-size="46" font-weight="normal" font-style="italic" text-anchor="start" >x</text>
<text x="731" y="622" font-family='"Liberation Serif","DejaVu Serif",serif' font-size="46" font-weight="normal" font-style="italic" text-anchor="start" >z</text>
<text x="878" y="627" font-family='"Liberation Serif","DejaVu Serif",serif' font-size="46" font-weight="normal" font-style="italic" text-anchor="start" >y</text>
<text x="71.5" y="106.3" font-family='"Liberation Serif","DejaVu Serif",serif' font-size="33" font-weight="normal" font-style="normal" text-anchor="start" >(a)</text>
<g clip-path="url(#clipb)">
<rect x="436.8" y="951.5" width="173.1" height="148.1" fill="#0000a6"/>
<ellipse cx="497" cy="1029" rx="64" ry="92" fill="url(#b_bigel)"/>
<rect x="436.8" y="951.5" width="9" height="148.1" fill="url(#b_left)"/>
<rect x="562" y="951.5" width="48" height="148.1" fill="#0000c8"/>
<ellipse cx="585.5" cy="1026" rx="17" ry="52" fill="url(#b_el2)"/>
<rect x="556" y="951.5" width="54" height="14.4" fill="url(#b_glow)"/>
<rect x="556" y="1085.2" width="54" height="14.6" fill="url(#b_glow)"/>
<g clip-path="url(#domeT)"><ellipse cx="585" cy="964.8" rx="23" ry="12.5" fill="url(#b_dome)"/><ellipse cx="585" cy="963.6" rx="17" ry="2.6" fill="#b00000"/></g>
<g clip-path="url(#domeB)"><ellipse cx="585" cy="1086.2" rx="23" ry="12.5" fill="url(#b_dome)"/><ellipse cx="585" cy="1087.4" rx="17" ry="2.6" fill="#b00000"/></g>
<rect x="564" y="964.6" width="42" height="1.2" fill="#40ffc0"/><rect x="564" y="1085" width="42" height="1.2" fill="#40ffc0"/>
</g>
<rect x="564.2" y="966.2" width="41.6" height="117.8" fill="none" stroke="#000" stroke-width="2.2" stroke-dasharray="6.5 3.2"/>
<rect x="613.3" y="951.5" width="6.8" height="148.1" fill="url(#jetv)"/>
<text x="507" y="934" font-family='"Liberation Serif","DejaVu Serif",serif' font-size="19.5" font-weight="bold" font-style="normal" text-anchor="start" textLength="128.5" lengthAdjust="spacingAndGlyphs">Intensity (a.u.)</text>
<line x1="418.1" y1="1110.4" x2="418.1" y2="1042" stroke="#000" stroke-width="1.3" />
<polygon points="418.1,1032.5 422.6,1043.5 413.6,1043.5" fill="#000"/>
<line x1="417.5" y1="1109.8" x2="474" y2="1109.8" stroke="#000" stroke-width="1.3" />
<polygon points="483.5,1109.8 472.5,1114.3 472.5,1105.3" fill="#000"/>
<text x="395.3" y="1041.5" font-family='"Liberation Serif","DejaVu Serif",serif' font-size="29" font-weight="bold" font-style="normal" text-anchor="start" >x</text>
<text x="491.5" y="1114.5" font-family='"Liberation Serif","DejaVu Serif",serif' font-size="29" font-weight="bold" font-style="normal" text-anchor="start" >y</text>
<line x1="303.2" y1="1112.7" x2="391.5" y2="1066.3" stroke="#000" stroke-width="1" />
<polygon points="397,1063.4 391.52,1069.1 389.2,1064.68" fill="#000"/>
<path d="M156.5 803.18 L158 805.28 L159.5 807.43 L161 809.63 L162.5 811.88 L164 814.2 L165.5 816.58 L167 819.03 L168.5 821.55 L170 824.15 L171.5 826.83 L173 829.6 L174.5 832.45 L176 835.39 L177.5 838.42 L179 841.54 L180.5 844.76 L182 848.07 L183.5 851.48 L185 854.98 L186.5 858.58 L188 862.27 L189.5 866.06 L191 869.94 L192.5 873.91 L194 877.98 L195.5 882.13 L197 886.37 L198.5 890.69 L200 895.09 L201.5 899.57 L203 904.13 L204.5 908.75 L206 913.44 L207.5 918.19 L209 922.99 L210.5 927.84 L212 932.74 L213.5 937.68 L215 942.65 L216.5 947.64 L218 952.66 L219.5 957.69 L221 962.73 L222.5 967.78 L224 972.83 L225.5 977.88 L227 982.92 L228.5 987.95 L230 992.96 L231.5 997.97 L233 1002.95 L234.5 1007.91 L236 1012.85 L237.5 1017.76 L239 1022.64 L240.5 1027.49 L242 1032.29 L243.5 1037.05 L245 1041.75 L246.5 1046.38 L248 1050.94 L249.5 1055.42 L251 1059.8 L252.5 1064.07 L254 1068.21 L255.5 1072.23 L257 1076.09 L258.5 1079.81 L260 1083.35 L261.5 1086.73 L263 1089.92 L264.5 1092.92 L266 1095.72 L267.5 1098.33 L269 1100.73 L270.5 1102.92 L272 1104.89 L273.5 1106.65 L275 1108.2 L276.5 1109.53 L278 1110.63 L279.5 1111.53 L281 1112.21 L282.5 1112.67 L284 1112.93 L285.5 1112.98 L287 1112.84 L288.5 1112.49 L290 1111.96 L291.5 1111.25 L293 1110.37 L294.5 1109.33 L296 1108.13 L297.5 1106.79 L299 1105.31 L300.5 1103.7 L302 1101.98 L303.5 1100.15 L305 1098.21 L306.5 1096.18 L308 1094.07 L309.5 1091.87 L311 1089.6 L312.5 1087.27 L314 1084.88 L315.5 1082.43 L317 1079.94 L318.5 1077.4 L320 1074.83 L321.5 1072.22 L323 1069.59 L324.5 1066.93 L326 1064.26 L327.5 1061.57 L329 1058.87 L330.5 1056.16 L332 1053.44 L333.5 1050.73 L335 1048.01 L336.5 1045.3 L338 1042.59 L339.5 1039.89 L341 1037.19 L342.5 1034.51 L344 1031.84 L345.5 1029.18 L347 1026.53 L348.5 1023.9 L350 1021.29 L351.5 1018.7 L353 1016.12 L354.5 1013.57 L356 1011.03 L357.5 1008.52 L359 1006.04 L360.5 1003.57 L362 1001.14 L363.5 998.72 L365 996.34 L366.5 993.98 L368 991.64 L369.5 989.33 L371 987.05 L372.5 984.8 L374 982.57 L375.5 980.36 L377 978.18 L378.5 976.03 L380 973.89 L381.5 971.78 L383 969.68 L384.5 967.61 L386 965.55 L387.5 963.5 L389 961.47 L390.5 959.45 L392 957.44 L393.5 955.44 L395 953.44 L396.5 951.46 L398 949.47 L399.5 947.5 L401 945.53 L402.5 943.57 L404 941.62 L405.5 939.68 L407 937.75 L408.5 935.83 L410 933.93 L411.5 932.05 L413 930.18 L414.5 928.34 L416 926.52 L417.5 924.73 L419 922.97 L420.5 921.23 L422 919.51 L423.5 917.83 L425 916.18 L426.5 914.55 L428 912.95 L429.5 911.39 L431 909.84 L432.5 908.33 L434 906.84 L435.5 905.37 L437 903.93 L438.5 902.52 L440 901.13 L441.5 899.76 L443 898.41 L444.5 897.09 L446 895.79 L447.5 894.5 L449 893.24 L450.5 892 L452 890.78 L453.5 889.58 L455 888.39 L456.5 887.23 L458 886.08 L459.5 884.95 L461 883.84 L462.5 882.74 L464 881.66 L465.5 880.6 L467 879.55 L468.5 878.52 L470 877.5 L471.5 876.5 L473 875.52 L474.5 874.54 L476 873.59 L477.5 872.64 L479 871.71 L480.5 870.79 L482 869.89 L483.5 869 L485 868.12 L486.5 867.26 L488 866.4 L489.5 865.56 L491 864.73 L492.5 863.92 L494 863.11 L495.5 862.32 L497 861.53 L498.5 860.76 L500 859.99 L501.5 859.24 L503 858.5 L504.5 857.76 L506 857.04 L507.5 856.33 L509 855.62 L510.5 854.93 L512 854.24 L513.5 853.56 L515 852.89 L516.5 852.23 L518 851.58 L519.5 850.93 L521 850.3 L522.5 849.67 L524 849.04 L525.5 848.43 L527 847.82 L528.5 847.22 L530 846.63 L531.5 846.04 L533 845.46 L534.5 844.89 L536 844.32 L537.5 843.76 L539 843.2 L540.5 842.65 L542 842.11 L543.5 841.57 L545 841.04 L546.5 840.52 L548 840 L549.5 839.48 L551 838.97 L552.5 838.47 L554 837.97 L555.5 837.47 L557 836.98 L558.5 836.49 L560 836.01 L561.5 835.54 L563 835.07 L564.5 834.6 L566 834.14 L567.5 833.68 L569 833.22 L570.5 832.77 L572 832.33 L573.5 831.89 L575 831.45 L576.5 831.02 L578 830.59 L579.5 830.16 L581 829.74 L582.5 829.32 L584 828.91 L585.5 828.5 L587 828.09 L588.5 827.69 L590 827.29 L591.5 826.9 L593 826.51 L594.5 826.12 L596 825.74 L597.5 825.36 L599 824.98 L600.5 824.61 L602 824.24 L603.5 823.88 L605 823.52 L606.5 823.16 L608 822.81 L609.5 822.46 L611 822.12 L612.5 821.78 L614 821.44 L615.5 821.11 L617 820.78 L618.5 820.46 L620 820.14 L621.5 819.82 L623 819.51 L624.5 819.2 L626 818.9 L627.5 818.6 L629 818.31 L630.5 818.02 L632 817.74 L633.5 817.46 L635 817.19 L636.5 816.92 L638 816.66 L639.5 816.4 L641 816.15 L642.5 815.9 L644 815.66 L645.5 815.42 L647 815.19 L648.5 814.97 L650 814.75" fill="none" stroke="#ff0000" stroke-width="2.6" stroke-linejoin="round" clip-path="url(#cb)"/>
<rect x="156.4" y="753.8" width="493.6" height="367.1" fill="none" stroke="#000" stroke-width="1.6"/>
<line x1="148.9" y1="1113.7" x2="156.4" y2="1113.7" stroke="#000" stroke-width="1.5" />
<text x="144.9" y="1121.4" font-family='"Liberation Sans","DejaVu Sans",sans-serif' font-size="21.8" font-weight="bold" font-style="normal" text-anchor="end" >0.0</text>
<line x1="152.4" y1="1077.7" x2="156.4" y2="1077.7" stroke="#000" stroke-width="1.5" />
<line x1="148.9" y1="1041.7" x2="156.4" y2="1041.7" stroke="#000" stroke-width="1.5" />
<text x="144.9" y="1049.4" font-family='"Liberation Sans","DejaVu Sans",sans-serif' font-size="21.8" font-weight="bold" font-style="normal" text-anchor="end" >0.2</text>
<line x1="152.4" y1="1005.7" x2="156.4" y2="1005.7" stroke="#000" stroke-width="1.5" />
<line x1="148.9" y1="969.7" x2="156.4" y2="969.7" stroke="#000" stroke-width="1.5" />
<text x="144.9" y="977.4" font-family='"Liberation Sans","DejaVu Sans",sans-serif' font-size="21.8" font-weight="bold" font-style="normal" text-anchor="end" >0.4</text>
<line x1="152.4" y1="933.7" x2="156.4" y2="933.7" stroke="#000" stroke-width="1.5" />
<line x1="148.9" y1="897.7" x2="156.4" y2="897.7" stroke="#000" stroke-width="1.5" />
<text x="144.9" y="905.4" font-family='"Liberation Sans","DejaVu Sans",sans-serif' font-size="21.8" font-weight="bold" font-style="normal" text-anchor="end" >0.6</text>
<line x1="152.4" y1="861.7" x2="156.4" y2="861.7" stroke="#000" stroke-width="1.5" />
<line x1="148.9" y1="825.7" x2="156.4" y2="825.7" stroke="#000" stroke-width="1.5" />
<text x="144.9" y="833.4" font-family='"Liberation Sans","DejaVu Sans",sans-serif' font-size="21.8" font-weight="bold" font-style="normal" text-anchor="end" >0.8</text>
<line x1="152.4" y1="789.7" x2="156.4" y2="789.7" stroke="#000" stroke-width="1.5" />
<line x1="148.9" y1="753.7" x2="156.4" y2="753.7" stroke="#000" stroke-width="1.5" />
<text x="144.9" y="761.4" font-family='"Liberation Sans","DejaVu Sans",sans-serif' font-size="21.8" font-weight="bold" font-style="normal" text-anchor="end" >1.0</text>
<line x1="156.5" y1="1120.9" x2="156.5" y2="1128.4" stroke="#000" stroke-width="1.5" />
<text x="156.5" y="1151" font-family='"Liberation Sans","DejaVu Sans",sans-serif' font-size="21.3" font-weight="bold" font-style="normal" text-anchor="middle" >6</text>
<line x1="218.18" y1="1120.9" x2="218.18" y2="1124.9" stroke="#000" stroke-width="1.5" />
<line x1="279.85" y1="1120.9" x2="279.85" y2="1128.4" stroke="#000" stroke-width="1.5" />
<text x="279.85" y="1151" font-family='"Liberation Sans","DejaVu Sans",sans-serif' font-size="21.3" font-weight="bold" font-style="normal" text-anchor="middle" >7</text>
<line x1="341.52" y1="1120.9" x2="341.52" y2="1124.9" stroke="#000" stroke-width="1.5" />
<line x1="403.2" y1="1120.9" x2="403.2" y2="1128.4" stroke="#000" stroke-width="1.5" />
<text x="403.2" y="1151" font-family='"Liberation Sans","DejaVu Sans",sans-serif' font-size="21.3" font-weight="bold" font-style="normal" text-anchor="middle" >8</text>
<line x1="464.88" y1="1120.9" x2="464.88" y2="1124.9" stroke="#000" stroke-width="1.5" />
<line x1="526.55" y1="1120.9" x2="526.55" y2="1128.4" stroke="#000" stroke-width="1.5" />
<text x="526.55" y="1151" font-family='"Liberation Sans","DejaVu Sans",sans-serif' font-size="21.3" font-weight="bold" font-style="normal" text-anchor="middle" >9</text>
<line x1="588.22" y1="1120.9" x2="588.22" y2="1124.9" stroke="#000" stroke-width="1.5" />
<line x1="649.9" y1="1120.9" x2="649.9" y2="1128.4" stroke="#000" stroke-width="1.5" />
<text x="649.9" y="1151" font-family='"Liberation Sans","DejaVu Sans",sans-serif' font-size="21.3" font-weight="bold" font-style="normal" text-anchor="middle" >10</text>
<text x="403" y="1188.6" font-family='"Liberation Sans","DejaVu Sans",sans-serif' font-size="28.8" font-weight="bold" font-style="normal" text-anchor="middle" >Wavelength (µm)</text>
<text transform="translate(88.3,956) rotate(-90)" font-family='"Liberation Sans","DejaVu Sans",sans-serif' font-size="29" font-weight="bold" text-anchor="middle">Transmission</text>
<text x="183" y="797.8" font-family='"Liberation Serif","DejaVu Serif",serif' font-size="36.7" font-weight="bold" font-style="normal" text-anchor="start" >Only bright mode resonator</text>
<text x="64" y="708" font-family='"Liberation Serif","DejaVu Serif",serif' font-size="33" font-weight="normal" font-style="normal" text-anchor="start" >(b)</text>
<g clip-path="url(#clipc)">
<rect x="1129.3" y="778.3" width="171.4" height="146" fill="url(#c_ring)"/>
<rect x="1247" y="778.3" width="53.7" height="146" fill="url(#c_bar)"/>
<ellipse cx="1254.5" cy="779.1" rx="9" ry="3" fill="url(#c_hot)"/>
<ellipse cx="1292" cy="779.1" rx="7" ry="2.6" fill="url(#c_hot2)"/>
<ellipse cx="1254.5" cy="923.5" rx="9" ry="3" fill="url(#c_hot)"/>
<ellipse cx="1292" cy="923.5" rx="7" ry="2.6" fill="url(#c_hot2)"/>
</g>
<circle cx="1190.2" cy="851.2" r="45.2" fill="none" stroke="#000" stroke-width="2.4" stroke-dasharray="8 3.83"/>
<rect x="1250.2" y="783" width="47.6" height="135.3" fill="none" stroke="#000" stroke-width="2.2" stroke-dasharray="6.5 3.2"/>
<rect x="1304.2" y="778.3" width="6.8" height="146" fill="url(#jetv)"/>
<text x="1216" y="771.2" font-family='"Liberation Serif","DejaVu Serif",serif' font-size="19.5" font-weight="bold" font-style="normal" text-anchor="start" textLength="128.5" lengthAdjust="spacingAndGlyphs">Intensity (a.u.)</text>
<line x1="1111.9" y1="935" x2="1111.9" y2="867" stroke="#000" stroke-width="1.3" />
<polygon points="1111.9,857.4 1116.4,868.4 1107.4,868.4" fill="#000"/>
<line x1="1111.3" y1="934.4" x2="1167.5" y2="934.4" stroke="#000" stroke-width="1.3" />
<polygon points="1177.1,934.4 1166.1,938.9 1166.1,929.9" fill="#000"/>
<text x="1089.8" y="866" font-family='"Liberation Serif","DejaVu Serif",serif' font-size="29" font-weight="bold" font-style="normal" text-anchor="start" >x</text>
<text x="1182.5" y="953.5" font-family='"Liberation Serif","DejaVu Serif",serif' font-size="29" font-weight="bold" font-style="normal" text-anchor="start" >y</text>
<line x1="1067.9" y1="789.8" x2="1100" y2="789.8" stroke="#000" stroke-width="1" />
<polygon points="1105.8,789.8 1098.3,792.3 1098.3,787.3" fill="#000"/>
<path d="M854.8 755.03 L856.27 754.94 L857.73 754.92 L859.2 754.92 L860.67 754.99 L862.13 755.1 L863.6 755.26 L865.07 755.47 L866.53 755.72 L868 756.02 L869.47 756.36 L870.93 756.75 L872.4 757.18 L873.87 757.66 L875.33 758.18 L876.8 758.75 L878.27 759.37 L879.73 760.03 L881.2 760.75 L882.67 761.51 L884.13 762.33 L885.6 763.19 L887.07 764.12 L888.53 765.1 L890 766.13 L891.47 767.23 L892.93 768.39 L894.4 769.61 L895.87 770.91 L897.33 772.27 L898.8 773.7 L900.27 775.22 L901.73 776.81 L903.2 778.48 L904.67 780.24 L906.13 782.09 L907.6 784.03 L909.07 786.07 L910.53 788.21 L912 790.46 L913.47 792.82 L914.93 795.3 L916.4 797.89 L917.87 800.61 L919.33 803.46 L920.8 806.44 L922.27 809.56 L923.73 812.83 L925.2 816.26 L926.67 819.83 L928.13 823.57 L929.6 827.48 L931.07 831.57 L932.53 835.83 L934 840.28 L935.47 844.91 L936.93 849.74 L938.4 854.78 L939.87 860.02 L941.33 865.47 L942.8 871.14 L944.27 877.02 L945.73 883.1 L947.2 889.36 L948.67 895.76 L950.13 902.25 L951.6 908.79 L953.07 915.33 L954.53 921.83 L956 928.26 L957.47 934.62 L958.93 940.89 L960.4 947.08 L961.87 953.19 L963.33 959.25 L964.8 965.26 L966.27 971.22 L967.73 977.13 L969.2 983.02 L970.67 988.86 L972.13 994.67 L973.6 1000.44 L975.07 1006.17 L976.53 1011.85 L978 1017.46 L979.47 1023.01 L980.93 1028.48 L982.4 1033.85 L983.87 1039.11 L985.33 1044.24 L986.8 1049.23 L988.27 1054.07 L989.73 1058.74 L991.2 1063.24 L992.67 1067.56 L994.13 1071.69 L995.6 1075.64 L997.07 1079.39 L998.53 1082.95 L1000 1086.32 L1001.47 1089.5 L1002.93 1092.5 L1004.4 1095.32 L1005.87 1097.97 L1007.33 1100.47 L1008.8 1102.8 L1010.27 1104.98 L1011.73 1107 L1013.2 1108.86 L1014.67 1110.54 L1016.13 1112.03 L1017.6 1113.32 L1019.07 1114.38 L1020.53 1115.2 L1022 1115.75 L1023.47 1116.07 L1024.93 1116.05 L1026.4 1115.87 L1027.87 1115.34 L1029.33 1114.56 L1030.8 1113.53 L1032.27 1112.24 L1033.73 1110.7 L1035.2 1108.9 L1036.67 1106.81 L1038.13 1104.39 L1039.6 1101.59 L1041.07 1098.34 L1042.53 1094.55 L1044 1090.14 L1044.1 1089.81 L1044.2 1089.49 L1044.3 1089.17 L1044.4 1088.84 L1044.5 1088.51 L1044.6 1088.18 L1044.7 1087.85 L1044.8 1087.51 L1044.9 1087.17 L1045 1086.82 L1045.1 1086.46 L1045.21 1086.1 L1045.31 1085.73 L1045.41 1085.35 L1045.51 1084.97 L1045.61 1084.57 L1045.71 1084.16 L1045.81 1083.74 L1045.91 1083.31 L1046.01 1082.87 L1046.11 1082.41 L1046.21 1081.94 L1046.31 1081.47 L1046.41 1080.98 L1046.51 1080.48 L1046.61 1079.97 L1046.71 1079.45 L1046.81 1078.92 L1046.91 1078.37 L1047.01 1077.82 L1047.11 1077.25 L1047.21 1076.67 L1047.31 1076.08 L1047.41 1075.47 L1047.51 1074.86 L1047.62 1074.23 L1047.72 1073.59 L1047.82 1072.93 L1047.92 1072.26 L1048.02 1071.58 L1048.12 1070.89 L1048.22 1070.18 L1048.32 1069.46 L1048.42 1068.72 L1048.52 1067.97 L1048.62 1067.21 L1048.72 1066.43 L1048.82 1065.64 L1048.92 1064.83 L1049.02 1063.99 L1049.12 1063.13 L1049.22 1062.25 L1049.32 1061.34 L1049.42 1060.4 L1049.52 1059.43 L1049.62 1058.44 L1049.72 1057.42 L1049.82 1056.37 L1049.92 1055.3 L1050.03 1054.19 L1050.13 1053.05 L1050.23 1051.88 L1050.33 1050.67 L1050.43 1049.43 L1050.53 1048.16 L1050.63 1046.86 L1050.73 1045.51 L1050.83 1044.14 L1050.93 1042.72 L1051.03 1041.27 L1051.13 1039.77 L1051.23 1038.21 L1051.33 1036.58 L1051.43 1034.87 L1051.53 1033.09 L1051.63 1031.22 L1051.73 1029.26 L1051.83 1027.2 L1051.93 1025.03 L1052.03 1022.76 L1052.13 1020.36 L1052.23 1017.84 L1052.33 1015.19 L1052.44 1012.39 L1052.54 1009.19 L1052.64 1005.59 L1052.74 1001.63 L1052.84 997.39 L1052.94 992.91 L1053.04 988.25 L1053.14 983.48 L1053.24 978.65 L1053.34 973.81 L1053.44 969.01 L1053.54 963.94 L1053.64 958.62 L1053.74 953.13 L1053.84 947.56 L1053.94 942 L1054.04 936.52 L1054.14 931.23 L1054.24 926.23 L1054.34 921.77 L1054.44 917.58 L1054.54 913.33 L1054.64 908.71 L1054.74 903.36 L1054.85 896.83 L1054.95 888.13 L1055.05 877.79 L1055.15 866.61 L1055.25 855.39 L1055.35 844.92 L1055.45 835.71 L1055.55 826.5 L1055.65 817.52 L1055.75 809.37 L1055.85 802.66 L1055.95 797.6 L1056.05 793.17 L1056.15 791.2 L1056.25 792.48 L1056.35 795.73 L1056.45 800.09 L1056.55 808.14 L1056.65 820.59 L1056.75 834.18 L1056.85 846.37 L1056.95 858.7 L1057.05 871.22 L1057.15 883.5 L1057.26 895.13 L1057.36 905.79 L1057.46 915.74 L1057.56 925.21 L1057.66 934.41 L1057.76 943.52 L1057.86 952.74 L1057.96 962.3 L1058.06 972.31 L1058.16 982.46 L1058.26 992.4 L1058.36 1001.81 L1058.46 1010.34 L1058.56 1017.83 L1058.66 1024.83 L1058.76 1031.41 L1058.86 1037.62 L1058.96 1043.45 L1059.06 1048.93 L1059.16 1054.09 L1059.26 1058.92 L1059.36 1063.43 L1059.46 1067.66 L1059.56 1071.68 L1059.67 1075.55 L1059.77 1079.31 L1059.87 1083.04 L1059.97 1086.77 L1060.07 1090.47 L1060.17 1094.1 L1060.27 1097.6 L1060.37 1100.94 L1060.47 1104.07 L1060.57 1107.17 L1060.67 1110.52 L1060.77 1113.43 L1060.87 1115.13 L1060.97 1115.47 L1061.07 1115.69 L1061.17 1115.88 L1061.27 1116.06 L1061.37 1116.21 L1061.47 1116.34 L1061.57 1116.46 L1061.67 1116.55 L1061.77 1116.63 L1061.87 1116.69 L1061.97 1116.74 L1062.08 1116.77 L1062.18 1116.79 L1062.28 1116.8 L1062.38 1116.8 L1062.48 1116.78 L1062.58 1116.75 L1062.68 1116.7 L1062.78 1116.65 L1062.88 1116.58 L1062.98 1116.51 L1063.08 1116.44 L1063.18 1116.35 L1063.28 1116.27 L1063.38 1116.18 L1063.48 1116.09 L1063.58 1116 L1063.68 1115.92 L1063.78 1115.83 L1063.88 1115.73 L1063.98 1115.63 L1064.08 1115.52 L1064.18 1115.41 L1064.28 1115.29 L1064.38 1115.16 L1064.49 1115.03 L1064.59 1114.9 L1064.69 1114.76 L1064.79 1114.62 L1064.89 1114.47 L1064.99 1114.32 L1065.09 1114.17 L1065.19 1114.01 L1065.29 1113.85 L1065.39 1113.69 L1065.49 1113.53 L1065.59 1113.37 L1065.69 1113.2 L1065.79 1113.04 L1065.89 1112.87 L1065.99 1112.71 L1066.09 1112.54 L1066.19 1112.38 L1066.29 1112.22 L1066.39 1112.06 L1066.49 1111.9 L1066.59 1111.75 L1066.69 1111.59 L1066.79 1111.44 L1066.9 1111.29 L1067 1111.13 L1067.1 1110.98 L1067.2 1110.82 L1067.3 1110.66 L1067.4 1110.5 L1067.5 1110.35 L1067.6 1110.19 L1067.7 1110.03 L1067.8 1109.87 L1067.9 1109.7 L1068 1109.54 L1069.51 1107.12 L1071.01 1104.78 L1072.52 1102.47 L1074.02 1100.21 L1075.53 1097.97 L1077.03 1095.78 L1078.54 1093.62 L1080.05 1091.49 L1081.55 1089.4 L1083.06 1087.35 L1084.56 1085.32 L1086.07 1083.33 L1087.58 1081.37 L1089.08 1079.45 L1090.59 1077.55 L1092.09 1075.69 L1093.6 1073.85 L1095.1 1072.04 L1096.61 1070.27 L1098.12 1068.52 L1099.62 1066.8 L1101.13 1065.11 L1102.63 1063.44 L1104.14 1061.8 L1105.65 1060.19 L1107.15 1058.6 L1108.66 1057.04 L1110.16 1055.51 L1111.67 1053.99 L1113.17 1052.51 L1114.68 1051.04 L1116.19 1049.6 L1117.69 1048.18 L1119.2 1046.78 L1120.7 1045.41 L1122.21 1044.05 L1123.72 1042.72 L1125.22 1041.41 L1126.73 1040.11 L1128.23 1038.84 L1129.74 1037.58 L1131.24 1036.35 L1132.75 1035.13 L1134.26 1033.93 L1135.76 1032.75 L1137.27 1031.58 L1138.77 1030.43 L1140.28 1029.3 L1141.79 1028.18 L1143.29 1027.08 L1144.8 1026 L1146.3 1024.92 L1147.81 1023.87 L1149.31 1022.83 L1150.82 1021.8 L1152.33 1020.78 L1153.83 1019.78 L1155.34 1018.79 L1156.84 1017.81 L1158.35 1016.84 L1159.86 1015.89 L1161.36 1014.95 L1162.87 1014.01 L1164.37 1013.09 L1165.88 1012.18 L1167.38 1011.28 L1168.89 1010.39 L1170.4 1009.51 L1171.9 1008.63 L1173.41 1007.77 L1174.91 1006.92 L1176.42 1006.07 L1177.92 1005.23 L1179.43 1004.4 L1180.94 1003.58 L1182.44 1002.76 L1183.95 1001.95 L1185.45 1001.15 L1186.96 1000.36 L1188.47 999.57 L1189.97 998.79 L1191.48 998.02 L1192.98 997.25 L1194.49 996.49 L1195.99 995.73 L1197.5 994.98 L1199.01 994.23 L1200.51 993.49 L1202.02 992.76 L1203.52 992.03 L1205.03 991.31 L1206.54 990.59 L1208.04 989.87 L1209.55 989.16 L1211.05 988.46 L1212.56 987.76 L1214.06 987.06 L1215.57 986.37 L1217.08 985.69 L1218.58 985 L1220.09 984.33 L1221.59 983.65 L1223.1 982.98 L1224.61 982.32 L1226.11 981.66 L1227.62 981.01 L1229.12 980.35 L1230.63 979.71 L1232.13 979.07 L1233.64 978.43 L1235.15 977.8 L1236.65 977.17 L1238.16 976.54 L1239.66 975.92 L1241.17 975.31 L1242.68 974.7 L1244.18 974.1 L1245.69 973.5 L1247.19 972.9 L1248.7 972.31 L1250.2 971.73 L1251.71 971.15 L1253.22 970.58 L1254.72 970.01 L1256.23 969.45 L1257.73 968.89 L1259.24 968.34 L1260.74 967.79 L1262.25 967.25 L1263.76 966.71 L1265.26 966.18 L1266.77 965.66 L1268.27 965.14 L1269.78 964.63 L1271.29 964.12 L1272.79 963.62 L1274.3 963.12 L1275.8 962.63 L1277.31 962.15 L1278.81 961.67 L1280.32 961.19 L1281.83 960.73 L1283.33 960.27 L1284.84 959.81 L1286.34 959.36 L1287.85 958.92 L1289.36 958.48 L1290.86 958.05 L1292.37 957.62 L1293.87 957.21 L1295.38 956.79 L1296.88 956.38 L1298.39 955.98 L1299.9 955.59 L1301.4 955.2 L1302.91 954.81 L1304.41 954.44 L1305.92 954.06 L1307.43 953.7 L1308.93 953.34 L1310.44 952.98 L1311.94 952.64 L1313.45 952.29 L1314.95 951.96 L1316.46 951.63 L1317.97 951.3 L1319.47 950.98 L1320.98 950.67 L1322.48 950.36 L1323.99 950.06 L1325.5 949.77 L1327 949.48 L1328.51 949.19 L1330.01 948.91 L1331.52 948.64 L1333.02 948.37 L1334.53 948.11 L1336.04 947.85 L1337.54 947.6 L1339.05 947.35 L1340.55 947.11 L1342.06 946.88 L1343.57 946.65 L1345.07 946.42 L1346.58 946.2 L1348.08 945.99 L1349.59 945.78 L1351.09 945.57 L1352.6 945.37" fill="none" stroke="#ff0000" stroke-width="2.6" stroke-linejoin="round" clip-path="url(#cc)"/>
<rect x="854.9" y="754" width="497.7" height="369.9" fill="none" stroke="#000" stroke-width="1.6"/>
<line x1="847.4" y1="1116.7" x2="854.9" y2="1116.7" stroke="#000" stroke-width="1.5" />
<text x="843.4" y="1124.4" font-family='"Liberation Sans","DejaVu Sans",sans-serif' font-size="21.8" font-weight="bold" font-style="normal" text-anchor="end" >0.0</text>
<line x1="850.9" y1="1080.46" x2="854.9" y2="1080.46" stroke="#000" stroke-width="1.5" />
<line x1="847.4" y1="1044.22" x2="854.9" y2="1044.22" stroke="#000" stroke-width="1.5" />
<text x="843.4" y="1051.92" font-family='"Liberation Sans","DejaVu Sans",sans-serif' font-size="21.8" font-weight="bold" font-style="normal" text-anchor="end" >0.2</text>
<line x1="850.9" y1="1007.98" x2="854.9" y2="1007.98" stroke="#000" stroke-width="1.5" />
<line x1="847.4" y1="971.74" x2="854.9" y2="971.74" stroke="#000" stroke-width="1.5" />
<text x="843.4" y="979.44" font-family='"Liberation Sans","DejaVu Sans",sans-serif' font-size="21.8" font-weight="bold" font-style="normal" text-anchor="end" >0.4</text>
<line x1="850.9" y1="935.5" x2="854.9" y2="935.5" stroke="#000" stroke-width="1.5" />
<line x1="847.4" y1="899.26" x2="854.9" y2="899.26" stroke="#000" stroke-width="1.5" />
<text x="843.4" y="906.96" font-family='"Liberation Sans","DejaVu Sans",sans-serif' font-size="21.8" font-weight="bold" font-style="normal" text-anchor="end" >0.6</text>
<line x1="850.9" y1="863.02" x2="854.9" y2="863.02" stroke="#000" stroke-width="1.5" />
<line x1="847.4" y1="826.78" x2="854.9" y2="826.78" stroke="#000" stroke-width="1.5" />
<text x="843.4" y="834.48" font-family='"Liberation Sans","DejaVu Sans",sans-serif' font-size="21.8" font-weight="bold" font-style="normal" text-anchor="end" >0.8</text>
<line x1="850.9" y1="790.54" x2="854.9" y2="790.54" stroke="#000" stroke-width="1.5" />
<line x1="847.4" y1="754.3" x2="854.9" y2="754.3" stroke="#000" stroke-width="1.5" />
<text x="843.4" y="762" font-family='"Liberation Sans","DejaVu Sans",sans-serif' font-size="21.8" font-weight="bold" font-style="normal" text-anchor="end" >1.0</text>
<line x1="867.15" y1="1123.9" x2="867.15" y2="1127.9" stroke="#000" stroke-width="1.5" />
<line x1="904.5" y1="1123.9" x2="904.5" y2="1131.4" stroke="#000" stroke-width="1.5" />
<text x="904.5" y="1153.8" font-family='"Liberation Sans","DejaVu Sans",sans-serif' font-size="21.3" font-weight="bold" font-style="normal" text-anchor="middle" >8.7</text>
<line x1="941.85" y1="1123.9" x2="941.85" y2="1127.9" stroke="#000" stroke-width="1.5" />
<line x1="979.2" y1="1123.9" x2="979.2" y2="1131.4" stroke="#000" stroke-width="1.5" />
<text x="979.2" y="1153.8" font-family='"Liberation Sans","DejaVu Sans",sans-serif' font-size="21.3" font-weight="bold" font-style="normal" text-anchor="middle" >9.0</text>
<line x1="1016.55" y1="1123.9" x2="1016.55" y2="1127.9" stroke="#000" stroke-width="1.5" />
<line x1="1053.9" y1="1123.9" x2="1053.9" y2="1131.4" stroke="#000" stroke-width="1.5" />
<text x="1053.9" y="1153.8" font-family='"Liberation Sans","DejaVu Sans",sans-serif' font-size="21.3" font-weight="bold" font-style="normal" text-anchor="middle" >9.3</text>
<line x1="1091.25" y1="1123.9" x2="1091.25" y2="1127.9" stroke="#000" stroke-width="1.5" />
<line x1="1128.6" y1="1123.9" x2="1128.6" y2="1131.4" stroke="#000" stroke-width="1.5" />
<text x="1128.6" y="1153.8" font-family='"Liberation Sans","DejaVu Sans",sans-serif' font-size="21.3" font-weight="bold" font-style="normal" text-anchor="middle" >9.6</text>
<line x1="1165.95" y1="1123.9" x2="1165.95" y2="1127.9" stroke="#000" stroke-width="1.5" />
<line x1="1203.3" y1="1123.9" x2="1203.3" y2="1131.4" stroke="#000" stroke-width="1.5" />
<text x="1203.3" y="1153.8" font-family='"Liberation Sans","DejaVu Sans",sans-serif' font-size="21.3" font-weight="bold" font-style="normal" text-anchor="middle" >9.9</text>
<line x1="1240.65" y1="1123.9" x2="1240.65" y2="1127.9" stroke="#000" stroke-width="1.5" />
<line x1="1278" y1="1123.9" x2="1278" y2="1131.4" stroke="#000" stroke-width="1.5" />
<text x="1278" y="1153.8" font-family='"Liberation Sans","DejaVu Sans",sans-serif' font-size="21.3" font-weight="bold" font-style="normal" text-anchor="middle" >10.2</text>
<line x1="1315.35" y1="1123.9" x2="1315.35" y2="1127.9" stroke="#000" stroke-width="1.5" />
<line x1="1352.7" y1="1123.9" x2="1352.7" y2="1131.4" stroke="#000" stroke-width="1.5" />
<text x="1352.7" y="1153.8" font-family='"Liberation Sans","DejaVu Sans",sans-serif' font-size="21.3" font-weight="bold" font-style="normal" text-anchor="middle" >10.5</text>
<text x="1102.5" y="1196.5" font-family='"Liberation Sans","DejaVu Sans",sans-serif' font-size="28.8" font-weight="bold" font-style="normal" text-anchor="middle" >Wavelength (µm)</text>
<text transform="translate(787.6,957.5) rotate(-90)" font-family='"Liberation Sans","DejaVu Sans",sans-serif' font-size="29" font-weight="bold" text-anchor="middle">Transmission</text>
<text x="1140.5" y="1069.6" font-family='"Liberation Serif","DejaVu Serif",serif' font-size="36.2" font-weight="bold" font-style="normal" text-anchor="start" >EIT</text>
<text x="1140.3" y="1108.5" font-family='"Liberation Serif","DejaVu Serif",serif' font-size="36.2" font-weight="bold" font-style="normal" text-anchor="start" >metasurface</text>
<text x="764" y="708" font-family='"Liberation Serif","DejaVu Serif",serif' font-size="33" font-weight="normal" font-style="normal" text-anchor="start" >(c)</text>
<rect x="135" y="1291.2" width="7" height="442.6" fill="url(#d0)" shape-rendering="crispEdges"/>
<rect x="142" y="1291.2" width="15" height="442.6" fill="url(#d1)" shape-rendering="crispEdges"/>
<rect x="157" y="1291.2" width="15" height="442.6" fill="url(#d2)" shape-rendering="crispEdges"/>
<rect x="172" y="1291.2" width="14" height="442.6" fill="url(#d3)" shape-rendering="crispEdges"/>
<rect x="186" y="1291.2" width="15" height="442.6" fill="url(#d4)" shape-rendering="crispEdges"/>
<rect x="201" y="1291.2" width="15" height="442.6" fill="url(#d5)" shape-rendering="crispEdges"/>
<rect x="216" y="1291.2" width="15" height="442.6" fill="url(#d6)" shape-rendering="crispEdges"/>
<rect x="231" y="1291.2" width="15" height="442.6" fill="url(#d7)" shape-rendering="crispEdges"/>
<rect x="246" y="1291.2" width="14" height="442.6" fill="url(#d8)" shape-rendering="crispEdges"/>
<rect x="260" y="1291.2" width="15" height="442.6" fill="url(#d9)" shape-rendering="crispEdges"/>
<rect x="275" y="1291.2" width="15" height="442.6" fill="url(#d10)" shape-rendering="crispEdges"/>
<rect x="290" y="1291.2" width="15" height="442.6" fill="url(#d11)" shape-rendering="crispEdges"/>
<rect x="305" y="1291.2" width="14" height="442.6" fill="url(#d12)" shape-rendering="crispEdges"/>
<rect x="319" y="1291.2" width="15" height="442.6" fill="url(#d13)" shape-rendering="crispEdges"/>
<rect x="334" y="1291.2" width="15" height="442.6" fill="url(#d14)" shape-rendering="crispEdges"/>
<rect x="349" y="1291.2" width="15" height="442.6" fill="url(#d15)" shape-rendering="crispEdges"/>
<rect x="364" y="1291.2" width="15" height="442.6" fill="url(#d16)" shape-rendering="crispEdges"/>
<rect x="379" y="1291.2" width="14" height="442.6" fill="url(#d17)" shape-rendering="crispEdges"/>
<rect x="393" y="1291.2" width="15" height="442.6" fill="url(#d18)" shape-rendering="crispEdges"/>
<rect x="408" y="1291.2" width="15" height="442.6" fill="url(#d19)" shape-rendering="crispEdges"/>
<rect x="423" y="1291.2" width="15" height="442.6" fill="url(#d20)" shape-rendering="crispEdges"/>
<rect x="438" y="1291.2" width="14" height="442.6" fill="url(#d21)" shape-rendering="crispEdges"/>
<rect x="452" y="1291.2" width="15" height="442.6" fill="url(#d22)" shape-rendering="crispEdges"/>
<rect x="467" y="1291.2" width="15" height="442.6" fill="url(#d23)" shape-rendering="crispEdges"/>
<rect x="482" y="1291.2" width="15" height="442.6" fill="url(#d24)" shape-rendering="crispEdges"/>
<rect x="497" y="1291.2" width="15" height="442.6" fill="url(#d25)" shape-rendering="crispEdges"/>
<rect x="512" y="1291.2" width="14" height="442.6" fill="url(#d26)" shape-rendering="crispEdges"/>
<rect x="526" y="1291.2" width="15" height="442.6" fill="url(#d27)" shape-rendering="crispEdges"/>
<rect x="541" y="1291.2" width="15" height="442.6" fill="url(#d28)" shape-rendering="crispEdges"/>
<rect x="556" y="1291.2" width="15" height="442.6" fill="url(#d29)" shape-rendering="crispEdges"/>
<rect x="571" y="1291.2" width="14" height="442.6" fill="url(#d30)" shape-rendering="crispEdges"/>
<rect x="585" y="1291.2" width="15" height="442.6" fill="url(#d31)" shape-rendering="crispEdges"/>
<rect x="600" y="1291.2" width="8" height="442.6" fill="url(#d32)" shape-rendering="crispEdges"/>
<rect x="134.7" y="1291.2" width="472.9" height="442.6" fill="none" stroke="#1a1a40" stroke-width="0.7"/>
<text x="127.7" y="1739.7" font-family='"Liberation Sans","DejaVu Sans",sans-serif' font-size="16.6" font-weight="bold" font-style="normal" text-anchor="end" >9</text>
<text x="127.7" y="1684.38" font-family='"Liberation Sans","DejaVu Sans",sans-serif' font-size="16.6" font-weight="bold" font-style="normal" text-anchor="end" >9.1</text>
<line x1="134.7" y1="1678.47" x2="138.7" y2="1678.47" stroke="#111" stroke-width="0.7" />
<line x1="603.6" y1="1678.47" x2="607.6" y2="1678.47" stroke="#111" stroke-width="0.7" />
<text x="127.7" y="1629.05" font-family='"Liberation Sans","DejaVu Sans",sans-serif' font-size="16.6" font-weight="bold" font-style="normal" text-anchor="end" >9.2</text>
<line x1="134.7" y1="1623.15" x2="138.7" y2="1623.15" stroke="#111" stroke-width="0.7" />
<line x1="603.6" y1="1623.15" x2="607.6" y2="1623.15" stroke="#111" stroke-width="0.7" />
<text x="127.7" y="1573.73" font-family='"Liberation Sans","DejaVu Sans",sans-serif' font-size="16.6" font-weight="bold" font-style="normal" text-anchor="end" >9.3</text>
<line x1="134.7" y1="1567.83" x2="138.7" y2="1567.83" stroke="#111" stroke-width="0.7" />
<line x1="603.6" y1="1567.83" x2="607.6" y2="1567.83" stroke="#111" stroke-width="0.7" />
<text x="127.7" y="1518.4" font-family='"Liberation Sans","DejaVu Sans",sans-serif' font-size="16.6" font-weight="bold" font-style="normal" text-anchor="end" >9.4</text>
<line x1="134.7" y1="1512.5" x2="138.7" y2="1512.5" stroke="#111" stroke-width="0.7" />
<line x1="603.6" y1="1512.5" x2="607.6" y2="1512.5" stroke="#111" stroke-width="0.7" />
<text x="127.7" y="1463.08" font-family='"Liberation Sans","DejaVu Sans",sans-serif' font-size="16.6" font-weight="bold" font-style="normal" text-anchor="end" >9.5</text>
<line x1="134.7" y1="1457.17" x2="138.7" y2="1457.17" stroke="#111" stroke-width="0.7" />
<line x1="603.6" y1="1457.17" x2="607.6" y2="1457.17" stroke="#111" stroke-width="0.7" />
<text x="127.7" y="1407.75" font-family='"Liberation Sans","DejaVu Sans",sans-serif' font-size="16.6" font-weight="bold" font-style="normal" text-anchor="end" >9.6</text>
<line x1="134.7" y1="1401.85" x2="138.7" y2="1401.85" stroke="#111" stroke-width="0.7" />
<line x1="603.6" y1="1401.85" x2="607.6" y2="1401.85" stroke="#111" stroke-width="0.7" />
<text x="127.7" y="1352.43" font-family='"Liberation Sans","DejaVu Sans",sans-serif' font-size="16.6" font-weight="bold" font-style="normal" text-anchor="end" >9.7</text>
<line x1="134.7" y1="1346.53" x2="138.7" y2="1346.53" stroke="#111" stroke-width="0.7" />
<line x1="603.6" y1="1346.53" x2="607.6" y2="1346.53" stroke="#111" stroke-width="0.7" />
<text x="127.7" y="1297.1" font-family='"Liberation Sans","DejaVu Sans",sans-serif' font-size="16.6" font-weight="bold" font-style="normal" text-anchor="end" >9.8</text>
<text x="134.7" y="1759.3" font-family='"Liberation Sans","DejaVu Sans",sans-serif' font-size="16.6" font-weight="bold" font-style="normal" text-anchor="middle" >0.25</text>
<text x="282.48" y="1759.3" font-family='"Liberation Sans","DejaVu Sans",sans-serif' font-size="16.6" font-weight="bold" font-style="normal" text-anchor="middle" >0.3</text>
<line x1="282.48" y1="1729.8" x2="282.48" y2="1733.8" stroke="#111" stroke-width="0.7" />
<line x1="282.48" y1="1291.2" x2="282.48" y2="1295.2" stroke="#111" stroke-width="0.7" />
<text x="430.26" y="1759.3" font-family='"Liberation Sans","DejaVu Sans",sans-serif' font-size="16.6" font-weight="bold" font-style="normal" text-anchor="middle" >0.35</text>
<line x1="430.26" y1="1729.8" x2="430.26" y2="1733.8" stroke="#111" stroke-width="0.7" />
<line x1="430.26" y1="1291.2" x2="430.26" y2="1295.2" stroke="#111" stroke-width="0.7" />
<text x="578.04" y="1759.3" font-family='"Liberation Sans","DejaVu Sans",sans-serif' font-size="16.6" font-weight="bold" font-style="normal" text-anchor="middle" >0.4</text>
<line x1="578.04" y1="1729.8" x2="578.04" y2="1733.8" stroke="#111" stroke-width="0.7" />
<line x1="578.04" y1="1291.2" x2="578.04" y2="1295.2" stroke="#111" stroke-width="0.7" />
<text x="371.5" y="1793.4" font-family='"Liberation Sans","DejaVu Sans",sans-serif' font-size="27" font-weight="bold" font-style="normal" text-anchor="middle" >g (µm)</text>
<text transform="translate(89.5,1515.5) rotate(-90)" font-family='"Liberation Sans","DejaVu Sans",sans-serif' font-size="27" font-weight="bold" text-anchor="middle">Wavelength (µm)</text>
<rect x="619.4" y="1291.2" width="22.2" height="442.6" fill="url(#cbd)" stroke="#402020" stroke-width="0.6"/>
<line x1="638.6" y1="1689.42" x2="641.6" y2="1689.42" stroke="#222" stroke-width="0.7" />
<text x="648" y="1694.72" font-family='"Liberation Sans","DejaVu Sans",sans-serif' font-size="15" font-weight="bold" font-style="normal" text-anchor="start" >0.1</text>
<line x1="638.6" y1="1644.84" x2="641.6" y2="1644.84" stroke="#222" stroke-width="0.7" />
<text x="648" y="1650.14" font-family='"Liberation Sans","DejaVu Sans",sans-serif' font-size="15" font-weight="bold" font-style="normal" text-anchor="start" >0.2</text>
<line x1="638.6" y1="1600.26" x2="641.6" y2="1600.26" stroke="#222" stroke-width="0.7" />
<text x="648" y="1605.56" font-family='"Liberation Sans","DejaVu Sans",sans-serif' font-size="15" font-weight="bold" font-style="normal" text-anchor="start" >0.3</text>
<line x1="638.6" y1="1555.68" x2="641.6" y2="1555.68" stroke="#222" stroke-width="0.7" />
<text x="648" y="1560.98" font-family='"Liberation Sans","DejaVu Sans",sans-serif' font-size="15" font-weight="bold" font-style="normal" text-anchor="start" >0.4</text>
<line x1="638.6" y1="1511.1" x2="641.6" y2="1511.1" stroke="#222" stroke-width="0.7" />
<text x="648" y="1516.4" font-family='"Liberation Sans","DejaVu Sans",sans-serif' font-size="15" font-weight="bold" font-style="normal" text-anchor="start" >0.5</text>
<line x1="638.6" y1="1466.52" x2="641.6" y2="1466.52" stroke="#222" stroke-width="0.7" />
<text x="648" y="1471.82" font-family='"Liberation Sans","DejaVu Sans",sans-serif' font-size="15" font-weight="bold" font-style="normal" text-anchor="start" >0.6</text>
<line x1="638.6" y1="1421.94" x2="641.6" y2="1421.94" stroke="#222" stroke-width="0.7" />
<text x="648" y="1427.24" font-family='"Liberation Sans","DejaVu Sans",sans-serif' font-size="15" font-weight="bold" font-style="normal" text-anchor="start" >0.7</text>
<line x1="638.6" y1="1377.36" x2="641.6" y2="1377.36" stroke="#222" stroke-width="0.7" />
<text x="648" y="1382.66" font-family='"Liberation Sans","DejaVu Sans",sans-serif' font-size="15" font-weight="bold" font-style="normal" text-anchor="start" >0.8</text>
<line x1="638.6" y1="1332.78" x2="641.6" y2="1332.78" stroke="#222" stroke-width="0.7" />
<text x="648" y="1338.08" font-family='"Liberation Sans","DejaVu Sans",sans-serif' font-size="15" font-weight="bold" font-style="normal" text-anchor="start" >0.9</text>
<text x="549.8" y="1270.8" font-family='"Liberation Serif","DejaVu Serif",serif' font-size="27" font-weight="bold" font-style="italic" text-anchor="start" >Transmission</text>
<text x="64" y="1247" font-family='"Liberation Serif","DejaVu Serif",serif' font-size="33" font-weight="normal" font-style="normal" text-anchor="start" >(d)</text>
<rect x="848" y="1294.3" width="53" height="436.7" fill="url(#e0)" shape-rendering="crispEdges"/>
<rect x="901" y="1294.3" width="92" height="436.7" fill="url(#e1)" shape-rendering="crispEdges"/>
<rect x="993" y="1294.3" width="92" height="436.7" fill="url(#e2)" shape-rendering="crispEdges"/>
<rect x="1085" y="1294.3" width="106" height="436.7" fill="url(#e3)" shape-rendering="crispEdges"/>
<rect x="1191" y="1294.3" width="92" height="436.7" fill="url(#e4)" shape-rendering="crispEdges"/>
<rect x="1283" y="1294.3" width="21" height="436.7" fill="url(#e5)" shape-rendering="crispEdges"/>
<rect x="848.4" y="1294.3" width="456.1" height="436.7" fill="none" stroke="#1a1a40" stroke-width="0.7"/>
<text x="841.4" y="1736.9" font-family='"Liberation Sans","DejaVu Sans",sans-serif' font-size="16.6" font-weight="bold" font-style="normal" text-anchor="end" >9</text>
<text x="841.4" y="1682.31" font-family='"Liberation Sans","DejaVu Sans",sans-serif' font-size="16.6" font-weight="bold" font-style="normal" text-anchor="end" >9.1</text>
<line x1="848.4" y1="1676.41" x2="852.4" y2="1676.41" stroke="#111" stroke-width="0.7" />
<line x1="1300.5" y1="1676.41" x2="1304.5" y2="1676.41" stroke="#111" stroke-width="0.7" />
<text x="841.4" y="1627.73" font-family='"Liberation Sans","DejaVu Sans",sans-serif' font-size="16.6" font-weight="bold" font-style="normal" text-anchor="end" >9.2</text>
<line x1="848.4" y1="1621.83" x2="852.4" y2="1621.83" stroke="#111" stroke-width="0.7" />
<line x1="1300.5" y1="1621.83" x2="1304.5" y2="1621.83" stroke="#111" stroke-width="0.7" />
<text x="841.4" y="1573.14" font-family='"Liberation Sans","DejaVu Sans",sans-serif' font-size="16.6" font-weight="bold" font-style="normal" text-anchor="end" >9.3</text>
<line x1="848.4" y1="1567.24" x2="852.4" y2="1567.24" stroke="#111" stroke-width="0.7" />
<line x1="1300.5" y1="1567.24" x2="1304.5" y2="1567.24" stroke="#111" stroke-width="0.7" />
<text x="841.4" y="1518.55" font-family='"Liberation Sans","DejaVu Sans",sans-serif' font-size="16.6" font-weight="bold" font-style="normal" text-anchor="end" >9.4</text>
<line x1="848.4" y1="1512.65" x2="852.4" y2="1512.65" stroke="#111" stroke-width="0.7" />
<line x1="1300.5" y1="1512.65" x2="1304.5" y2="1512.65" stroke="#111" stroke-width="0.7" />
<text x="841.4" y="1463.96" font-family='"Liberation Sans","DejaVu Sans",sans-serif' font-size="16.6" font-weight="bold" font-style="normal" text-anchor="end" >9.5</text>
<line x1="848.4" y1="1458.06" x2="852.4" y2="1458.06" stroke="#111" stroke-width="0.7" />
<line x1="1300.5" y1="1458.06" x2="1304.5" y2="1458.06" stroke="#111" stroke-width="0.7" />
<text x="841.4" y="1409.38" font-family='"Liberation Sans","DejaVu Sans",sans-serif' font-size="16.6" font-weight="bold" font-style="normal" text-anchor="end" >9.6</text>
<line x1="848.4" y1="1403.47" x2="852.4" y2="1403.47" stroke="#111" stroke-width="0.7" />
<line x1="1300.5" y1="1403.47" x2="1304.5" y2="1403.47" stroke="#111" stroke-width="0.7" />
<text x="841.4" y="1354.79" font-family='"Liberation Sans","DejaVu Sans",sans-serif' font-size="16.6" font-weight="bold" font-style="normal" text-anchor="end" >9.7</text>
<line x1="848.4" y1="1348.89" x2="852.4" y2="1348.89" stroke="#111" stroke-width="0.7" />
<line x1="1300.5" y1="1348.89" x2="1304.5" y2="1348.89" stroke="#111" stroke-width="0.7" />
<text x="841.4" y="1300.2" font-family='"Liberation Sans","DejaVu Sans",sans-serif' font-size="16.6" font-weight="bold" font-style="normal" text-anchor="end" >9.8</text>
<text x="848.4" y="1755.3" font-family='"Liberation Sans","DejaVu Sans",sans-serif' font-size="16.6" font-weight="bold" font-style="normal" text-anchor="middle" >0.87</text>
<text x="924.42" y="1755.3" font-family='"Liberation Sans","DejaVu Sans",sans-serif' font-size="16.6" font-weight="bold" font-style="normal" text-anchor="middle" >0.875</text>
<line x1="924.42" y1="1727" x2="924.42" y2="1731" stroke="#111" stroke-width="0.7" />
<line x1="924.42" y1="1294.3" x2="924.42" y2="1298.3" stroke="#111" stroke-width="0.7" />
<text x="1000.43" y="1755.3" font-family='"Liberation Sans","DejaVu Sans",sans-serif' font-size="16.6" font-weight="bold" font-style="normal" text-anchor="middle" >0.88</text>
<line x1="1000.43" y1="1727" x2="1000.43" y2="1731" stroke="#111" stroke-width="0.7" />
<line x1="1000.43" y1="1294.3" x2="1000.43" y2="1298.3" stroke="#111" stroke-width="0.7" />
<text x="1076.45" y="1755.3" font-family='"Liberation Sans","DejaVu Sans",sans-serif' font-size="16.6" font-weight="bold" font-style="normal" text-anchor="middle" >0.885</text>
<line x1="1076.45" y1="1727" x2="1076.45" y2="1731" stroke="#111" stroke-width="0.7" />
<line x1="1076.45" y1="1294.3" x2="1076.45" y2="1298.3" stroke="#111" stroke-width="0.7" />
<text x="1152.47" y="1755.3" font-family='"Liberation Sans","DejaVu Sans",sans-serif' font-size="16.6" font-weight="bold" font-style="normal" text-anchor="middle" >0.89</text>
<line x1="1152.47" y1="1727" x2="1152.47" y2="1731" stroke="#111" stroke-width="0.7" />
<line x1="1152.47" y1="1294.3" x2="1152.47" y2="1298.3" stroke="#111" stroke-width="0.7" />
<text x="1228.48" y="1755.3" font-family='"Liberation Sans","DejaVu Sans",sans-serif' font-size="16.6" font-weight="bold" font-style="normal" text-anchor="middle" >0.895</text>
<line x1="1228.48" y1="1727" x2="1228.48" y2="1731" stroke="#111" stroke-width="0.7" />
<line x1="1228.48" y1="1294.3" x2="1228.48" y2="1298.3" stroke="#111" stroke-width="0.7" />
<text x="1304.5" y="1755.3" font-family='"Liberation Sans","DejaVu Sans",sans-serif' font-size="16.6" font-weight="bold" font-style="normal" text-anchor="middle" >0.9</text>
<text x="1076.5" y="1788" font-family='"Liberation Sans","DejaVu Sans",sans-serif' font-size="27" font-weight="bold" font-style="normal" text-anchor="middle" >t (µm)</text>
<text transform="translate(805.5,1516) rotate(-90)" font-family='"Liberation Sans","DejaVu Sans",sans-serif' font-size="27" font-weight="bold" text-anchor="middle">Wavelength (µm)</text>
<rect x="1328.4" y="1294.3" width="22.2" height="436.7" fill="url(#cbe)" stroke="#402020" stroke-width="0.6"/>
<line x1="1347.6" y1="1687.5" x2="1350.6" y2="1687.5" stroke="#222" stroke-width="0.7" />
<text x="1356.6" y="1692.8" font-family='"Liberation Sans","DejaVu Sans",sans-serif' font-size="15" font-weight="bold" font-style="normal" text-anchor="start" >0.1</text>
<line x1="1347.6" y1="1643.15" x2="1350.6" y2="1643.15" stroke="#222" stroke-width="0.7" />
<text x="1356.6" y="1648.45" font-family='"Liberation Sans","DejaVu Sans",sans-serif' font-size="15" font-weight="bold" font-style="normal" text-anchor="start" >0.2</text>
<line x1="1347.6" y1="1598.8" x2="1350.6" y2="1598.8" stroke="#222" stroke-width="0.7" />
<text x="1356.6" y="1604.1" font-family='"Liberation Sans","DejaVu Sans",sans-serif' font-size="15" font-weight="bold" font-style="normal" text-anchor="start" >0.3</text>
<line x1="1347.6" y1="1554.45" x2="1350.6" y2="1554.45" stroke="#222" stroke-width="0.7" />
<text x="1356.6" y="1559.75" font-family='"Liberation Sans","DejaVu Sans",sans-serif' font-size="15" font-weight="bold" font-style="normal" text-anchor="start" >0.4</text>
<line x1="1347.6" y1="1510.1" x2="1350.6" y2="1510.1" stroke="#222" stroke-width="0.7" />
<text x="1356.6" y="1515.4" font-family='"Liberation Sans","DejaVu Sans",sans-serif' font-size="15" font-weight="bold" font-style="normal" text-anchor="start" >0.5</text>
<line x1="1347.6" y1="1465.75" x2="1350.6" y2="1465.75" stroke="#222" stroke-width="0.7" />
<text x="1356.6" y="1471.05" font-family='"Liberation Sans","DejaVu Sans",sans-serif' font-size="15" font-weight="bold" font-style="normal" text-anchor="start" >0.6</text>
<line x1="1347.6" y1="1421.4" x2="1350.6" y2="1421.4" stroke="#222" stroke-width="0.7" />
<text x="1356.6" y="1426.7" font-family='"Liberation Sans","DejaVu Sans",sans-serif' font-size="15" font-weight="bold" font-style="normal" text-anchor="start" >0.7</text>
<line x1="1347.6" y1="1377.05" x2="1350.6" y2="1377.05" stroke="#222" stroke-width="0.7" />
<text x="1356.6" y="1382.35" font-family='"Liberation Sans","DejaVu Sans",sans-serif' font-size="15" font-weight="bold" font-style="normal" text-anchor="start" >0.8</text>
<line x1="1347.6" y1="1332.7" x2="1350.6" y2="1332.7" stroke="#222" stroke-width="0.7" />
<text x="1356.6" y="1338" font-family='"Liberation Sans","DejaVu Sans",sans-serif' font-size="15" font-weight="bold" font-style="normal" text-anchor="start" >0.9</text>
<text x="1237.5" y="1270.8" font-family='"Liberation Serif","DejaVu Serif",serif' font-size="27" font-weight="bold" font-style="italic" text-anchor="start" >Transmission</text>
<text x="764" y="1247" font-family='"Liberation Serif","DejaVu Serif",serif' font-size="33" font-weight="normal" font-style="normal" text-anchor="start" >(e)</text>
</svg>
</body></html>
